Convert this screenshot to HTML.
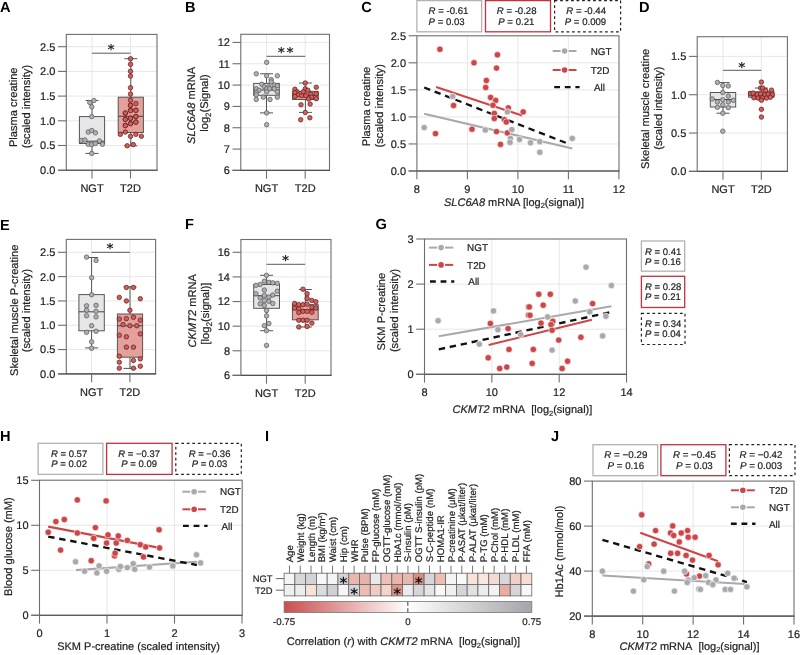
<!DOCTYPE html>
<html><head><meta charset="utf-8"><title>Figure</title><style>html,body{margin:0;padding:0;background:#fff;width:800px;height:655px;overflow:hidden}svg{display:block}</style></head><body>
<svg width="800" height="655" viewBox="0 0 800 655" font-family="Liberation Sans, Arial, Helvetica, sans-serif" text-rendering="geometricPrecision">
<rect width="800" height="655" fill="white"/>
<text x="0" y="12.1" font-size="14.6" font-weight="bold" fill="#000">A</text>
<line x1="66.3" y1="145.5" x2="157" y2="145.5" stroke="#e4e4e4" stroke-width="0.9" />
<line x1="66.3" y1="120.8" x2="157" y2="120.8" stroke="#e4e4e4" stroke-width="0.9" />
<line x1="66.3" y1="96.1" x2="157" y2="96.1" stroke="#e4e4e4" stroke-width="0.9" />
<line x1="66.3" y1="71.4" x2="157" y2="71.4" stroke="#e4e4e4" stroke-width="0.9" />
<line x1="66.3" y1="46.7" x2="157" y2="46.7" stroke="#e4e4e4" stroke-width="0.9" />
<line x1="92" y1="34.4" x2="92" y2="170.2" stroke="#e4e4e4" stroke-width="0.9" />
<line x1="130.5" y1="34.4" x2="130.5" y2="170.2" stroke="#e4e4e4" stroke-width="0.9" />
<rect x="66.3" y="34.4" width="90.7" height="135.8" fill="none" stroke="#6e6e6e" stroke-width="1.1" />
<line x1="58" y1="170.2" x2="157.55" y2="170.2" stroke="#505050" stroke-width="1.1" />
<line x1="58" y1="170.2" x2="66.3" y2="170.2" stroke="#6e6e6e" stroke-width="1.1" />
<line x1="58" y1="145.5" x2="66.3" y2="145.5" stroke="#6e6e6e" stroke-width="1.1" />
<line x1="58" y1="120.8" x2="66.3" y2="120.8" stroke="#6e6e6e" stroke-width="1.1" />
<line x1="58" y1="96.1" x2="66.3" y2="96.1" stroke="#6e6e6e" stroke-width="1.1" />
<line x1="58" y1="71.4" x2="66.3" y2="71.4" stroke="#6e6e6e" stroke-width="1.1" />
<line x1="58" y1="46.7" x2="66.3" y2="46.7" stroke="#6e6e6e" stroke-width="1.1" />
<line x1="92" y1="170.2" x2="92" y2="178.5" stroke="#6e6e6e" stroke-width="1.1" />
<line x1="130.5" y1="170.2" x2="130.5" y2="178.5" stroke="#6e6e6e" stroke-width="1.1" />
<text x="55.4" y="174.1" font-size="11" text-anchor="end" fill="#222" stroke="#222" stroke-width="0.2" >0.0</text>
<text x="55.4" y="149.4" font-size="11" text-anchor="end" fill="#222" stroke="#222" stroke-width="0.2" >0.5</text>
<text x="55.4" y="124.7" font-size="11" text-anchor="end" fill="#222" stroke="#222" stroke-width="0.2" >1.0</text>
<text x="55.4" y="100" font-size="11" text-anchor="end" fill="#222" stroke="#222" stroke-width="0.2" >1.5</text>
<text x="55.4" y="75.3" font-size="11" text-anchor="end" fill="#222" stroke="#222" stroke-width="0.2" >2.0</text>
<text x="55.4" y="50.6" font-size="11" text-anchor="end" fill="#222" stroke="#222" stroke-width="0.2" >2.5</text>
<text x="92" y="191.9" font-size="11" text-anchor="middle" fill="#222" stroke="#222" stroke-width="0.2" >NGT</text>
<text x="130.5" y="191.9" font-size="11" text-anchor="middle" fill="#222" stroke="#222" stroke-width="0.2" >T2D</text>
<text transform="translate(17,107.3) rotate(-90)" x="0" y="0" font-size="11.1" text-anchor="middle" fill="#222" stroke="#222" stroke-width="0.2" >Plasma creatine</text>
<text transform="translate(30.3,106.5) rotate(-90)" x="0" y="0" font-size="11.1" text-anchor="middle" fill="#222" stroke="#222" stroke-width="0.2" >(scaled intensity)</text>
<line x1="92" y1="100.5" x2="92" y2="153.4" stroke="#555" stroke-width="1" />
<line x1="85.5" y1="100.5" x2="98.5" y2="100.5" stroke="#555" stroke-width="1" />
<line x1="85.5" y1="153.4" x2="98.5" y2="153.4" stroke="#555" stroke-width="1" />
<rect x="79.4" y="116.6" width="25.2" height="26.9" fill="#e6e6e9" stroke="#555" stroke-width="1" />
<line x1="79.4" y1="141.2" x2="104.6" y2="141.2" stroke="#444" stroke-width="1" />
<line x1="130.8" y1="58.7" x2="130.8" y2="145.8" stroke="#555" stroke-width="1" />
<line x1="124.3" y1="58.7" x2="137.3" y2="58.7" stroke="#555" stroke-width="1" />
<line x1="124.3" y1="145.8" x2="137.3" y2="145.8" stroke="#555" stroke-width="1" />
<rect x="118.2" y="97.2" width="25.2" height="35.3" fill="#e4a19c" stroke="#555" stroke-width="1" />
<line x1="118.2" y1="116.3" x2="143.4" y2="116.3" stroke="#444" stroke-width="1" />
<line x1="92" y1="53.2" x2="130.5" y2="53.2" stroke="#5a5a5a" stroke-width="1" />
<text x="111" y="54.39" font-size="13.5" text-anchor="middle" fill="#2a2a2a" font-family="DejaVu Sans, sans-serif" font-weight="bold">*</text>
<circle cx="93.89" cy="100.53" r="2.25" fill="#b0b0b4" stroke="#555" stroke-width="0.7"/>
<circle cx="89.77" cy="102.52" r="2.25" fill="#b0b0b4" stroke="#555" stroke-width="0.7"/>
<circle cx="91.76" cy="106.79" r="2.25" fill="#b0b0b4" stroke="#555" stroke-width="0.7"/>
<circle cx="91.76" cy="116.56" r="2.25" fill="#b0b0b4" stroke="#555" stroke-width="0.7"/>
<circle cx="88.24" cy="132.06" r="2.25" fill="#b0b0b4" stroke="#555" stroke-width="0.7"/>
<circle cx="91.76" cy="130.53" r="2.25" fill="#b0b0b4" stroke="#555" stroke-width="0.7"/>
<circle cx="95.42" cy="132.82" r="2.25" fill="#b0b0b4" stroke="#555" stroke-width="0.7"/>
<circle cx="81.37" cy="140.46" r="2.25" fill="#b0b0b4" stroke="#555" stroke-width="0.7"/>
<circle cx="84.89" cy="140" r="2.25" fill="#b0b0b4" stroke="#555" stroke-width="0.7"/>
<circle cx="88.24" cy="144.27" r="2.25" fill="#b0b0b4" stroke="#555" stroke-width="0.7"/>
<circle cx="91.76" cy="144.58" r="2.25" fill="#b0b0b4" stroke="#555" stroke-width="0.7"/>
<circle cx="95.42" cy="143.51" r="2.25" fill="#b0b0b4" stroke="#555" stroke-width="0.7"/>
<circle cx="99.39" cy="140.92" r="2.25" fill="#b0b0b4" stroke="#555" stroke-width="0.7"/>
<circle cx="102.44" cy="144.27" r="2.25" fill="#b0b0b4" stroke="#555" stroke-width="0.7"/>
<circle cx="91.76" cy="153.44" r="2.25" fill="#b0b0b4" stroke="#555" stroke-width="0.7"/>
<circle cx="130.53" cy="58.7" r="2.25" fill="#dc5a58" stroke="#4a2020" stroke-width="0.7"/>
<circle cx="130.53" cy="64.35" r="2.25" fill="#dc5a58" stroke="#4a2020" stroke-width="0.7"/>
<circle cx="130.53" cy="71.22" r="2.25" fill="#dc5a58" stroke="#4a2020" stroke-width="0.7"/>
<circle cx="130.53" cy="76.11" r="2.25" fill="#dc5a58" stroke="#4a2020" stroke-width="0.7"/>
<circle cx="130.53" cy="87.71" r="2.25" fill="#dc5a58" stroke="#4a2020" stroke-width="0.7"/>
<circle cx="130.53" cy="94.12" r="2.25" fill="#dc5a58" stroke="#4a2020" stroke-width="0.7"/>
<circle cx="130.53" cy="100.23" r="2.25" fill="#dc5a58" stroke="#4a2020" stroke-width="0.7"/>
<circle cx="130.53" cy="105.27" r="2.25" fill="#dc5a58" stroke="#4a2020" stroke-width="0.7"/>
<circle cx="135.88" cy="103.59" r="2.25" fill="#dc5a58" stroke="#4a2020" stroke-width="0.7"/>
<circle cx="130.53" cy="110.15" r="2.25" fill="#dc5a58" stroke="#4a2020" stroke-width="0.7"/>
<circle cx="135.88" cy="110.15" r="2.25" fill="#dc5a58" stroke="#4a2020" stroke-width="0.7"/>
<circle cx="125.34" cy="113.21" r="2.25" fill="#dc5a58" stroke="#4a2020" stroke-width="0.7"/>
<circle cx="135.88" cy="116.56" r="2.25" fill="#dc5a58" stroke="#4a2020" stroke-width="0.7"/>
<circle cx="125.34" cy="119.31" r="2.25" fill="#dc5a58" stroke="#4a2020" stroke-width="0.7"/>
<circle cx="130.53" cy="118.24" r="2.25" fill="#dc5a58" stroke="#4a2020" stroke-width="0.7"/>
<circle cx="135.88" cy="122.06" r="2.25" fill="#dc5a58" stroke="#4a2020" stroke-width="0.7"/>
<circle cx="125.34" cy="125.42" r="2.25" fill="#dc5a58" stroke="#4a2020" stroke-width="0.7"/>
<circle cx="130.53" cy="123.44" r="2.25" fill="#dc5a58" stroke="#4a2020" stroke-width="0.7"/>
<circle cx="130.53" cy="105.34" r="2.25" fill="#dc5a58" stroke="#4a2020" stroke-width="0.7"/>
<circle cx="135.88" cy="110.38" r="2.25" fill="#dc5a58" stroke="#4a2020" stroke-width="0.7"/>
<circle cx="125.34" cy="112.98" r="2.25" fill="#dc5a58" stroke="#4a2020" stroke-width="0.7"/>
<circle cx="130.53" cy="110.69" r="2.25" fill="#dc5a58" stroke="#4a2020" stroke-width="0.7"/>
<circle cx="135.88" cy="116.49" r="2.25" fill="#dc5a58" stroke="#4a2020" stroke-width="0.7"/>
<circle cx="125.34" cy="119.54" r="2.25" fill="#dc5a58" stroke="#4a2020" stroke-width="0.7"/>
<circle cx="130.53" cy="118.32" r="2.25" fill="#dc5a58" stroke="#4a2020" stroke-width="0.7"/>
<circle cx="135.88" cy="122.14" r="2.25" fill="#dc5a58" stroke="#4a2020" stroke-width="0.7"/>
<circle cx="125.34" cy="125.65" r="2.25" fill="#dc5a58" stroke="#4a2020" stroke-width="0.7"/>
<circle cx="130.53" cy="123.66" r="2.25" fill="#dc5a58" stroke="#4a2020" stroke-width="0.7"/>
<circle cx="120.31" cy="134.35" r="2.25" fill="#dc5a58" stroke="#4a2020" stroke-width="0.7"/>
<circle cx="125.34" cy="132.06" r="2.25" fill="#dc5a58" stroke="#4a2020" stroke-width="0.7"/>
<circle cx="130.53" cy="136.34" r="2.25" fill="#dc5a58" stroke="#4a2020" stroke-width="0.7"/>
<circle cx="135.88" cy="134.35" r="2.25" fill="#dc5a58" stroke="#4a2020" stroke-width="0.7"/>
<circle cx="141.37" cy="136.18" r="2.25" fill="#dc5a58" stroke="#4a2020" stroke-width="0.7"/>
<circle cx="127.18" cy="145.8" r="2.25" fill="#dc5a58" stroke="#4a2020" stroke-width="0.7"/>
<circle cx="133.28" cy="144.58" r="2.25" fill="#dc5a58" stroke="#4a2020" stroke-width="0.7"/>
<text x="184.9" y="12.1" font-size="14.6" font-weight="bold" fill="#000">B</text>
<line x1="240.8" y1="149.07" x2="329.5" y2="149.07" stroke="#e4e4e4" stroke-width="0.9" />
<line x1="240.8" y1="127.74" x2="329.5" y2="127.74" stroke="#e4e4e4" stroke-width="0.9" />
<line x1="240.8" y1="106.41" x2="329.5" y2="106.41" stroke="#e4e4e4" stroke-width="0.9" />
<line x1="240.8" y1="85.08" x2="329.5" y2="85.08" stroke="#e4e4e4" stroke-width="0.9" />
<line x1="240.8" y1="63.75" x2="329.5" y2="63.75" stroke="#e4e4e4" stroke-width="0.9" />
<line x1="240.8" y1="42.42" x2="329.5" y2="42.42" stroke="#e4e4e4" stroke-width="0.9" />
<line x1="266.5" y1="34.3" x2="266.5" y2="170.4" stroke="#e4e4e4" stroke-width="0.9" />
<line x1="305.2" y1="34.3" x2="305.2" y2="170.4" stroke="#e4e4e4" stroke-width="0.9" />
<rect x="240.8" y="34.3" width="88.7" height="136.1" fill="none" stroke="#6e6e6e" stroke-width="1.1" />
<line x1="232.5" y1="170.4" x2="330.05" y2="170.4" stroke="#505050" stroke-width="1.1" />
<line x1="232.5" y1="170.4" x2="240.8" y2="170.4" stroke="#6e6e6e" stroke-width="1.1" />
<line x1="232.5" y1="149.07" x2="240.8" y2="149.07" stroke="#6e6e6e" stroke-width="1.1" />
<line x1="232.5" y1="127.74" x2="240.8" y2="127.74" stroke="#6e6e6e" stroke-width="1.1" />
<line x1="232.5" y1="106.41" x2="240.8" y2="106.41" stroke="#6e6e6e" stroke-width="1.1" />
<line x1="232.5" y1="85.08" x2="240.8" y2="85.08" stroke="#6e6e6e" stroke-width="1.1" />
<line x1="232.5" y1="63.75" x2="240.8" y2="63.75" stroke="#6e6e6e" stroke-width="1.1" />
<line x1="232.5" y1="42.42" x2="240.8" y2="42.42" stroke="#6e6e6e" stroke-width="1.1" />
<line x1="266.5" y1="170.4" x2="266.5" y2="178.7" stroke="#6e6e6e" stroke-width="1.1" />
<line x1="305.2" y1="170.4" x2="305.2" y2="178.7" stroke="#6e6e6e" stroke-width="1.1" />
<text x="229.9" y="174.3" font-size="11" text-anchor="end" fill="#222" stroke="#222" stroke-width="0.2" >6</text>
<text x="229.9" y="152.97" font-size="11" text-anchor="end" fill="#222" stroke="#222" stroke-width="0.2" >7</text>
<text x="229.9" y="131.64" font-size="11" text-anchor="end" fill="#222" stroke="#222" stroke-width="0.2" >8</text>
<text x="229.9" y="110.31" font-size="11" text-anchor="end" fill="#222" stroke="#222" stroke-width="0.2" >9</text>
<text x="229.9" y="88.98" font-size="11" text-anchor="end" fill="#222" stroke="#222" stroke-width="0.2" >10</text>
<text x="229.9" y="67.65" font-size="11" text-anchor="end" fill="#222" stroke="#222" stroke-width="0.2" >11</text>
<text x="229.9" y="46.32" font-size="11" text-anchor="end" fill="#222" stroke="#222" stroke-width="0.2" >12</text>
<text x="266.5" y="192.1" font-size="11" text-anchor="middle" fill="#222" stroke="#222" stroke-width="0.2" >NGT</text>
<text x="305.2" y="192.1" font-size="11" text-anchor="middle" fill="#222" stroke="#222" stroke-width="0.2" >T2D</text>
<text transform="translate(195.2,105.45) rotate(-90)" x="0" y="0" font-size="11.1" text-anchor="middle" fill="#222" stroke="#222" stroke-width="0.2" ><tspan font-style="italic">SLC6A8</tspan> mRNA</text>
<text transform="translate(207.9,103) rotate(-90)" x="0" y="0" font-size="11.1" text-anchor="middle" fill="#222" stroke="#222" stroke-width="0.2" >log<tspan font-size="7.8" dy="2.8">2</tspan><tspan dy="-2.8">(Signal)</tspan></text>
<line x1="266.5" y1="73.8" x2="266.5" y2="112.9" stroke="#555" stroke-width="1" />
<line x1="260" y1="73.8" x2="273" y2="73.8" stroke="#555" stroke-width="1" />
<line x1="260" y1="112.9" x2="273" y2="112.9" stroke="#555" stroke-width="1" />
<rect x="253.7" y="83.4" width="25.6" height="11.9" fill="#e6e6e9" stroke="#555" stroke-width="1" />
<line x1="253.7" y1="90" x2="279.3" y2="90" stroke="#444" stroke-width="1" />
<line x1="305.4" y1="83" x2="305.4" y2="112.4" stroke="#555" stroke-width="1" />
<line x1="298.9" y1="83" x2="311.9" y2="83" stroke="#555" stroke-width="1" />
<line x1="298.9" y1="112.4" x2="311.9" y2="112.4" stroke="#555" stroke-width="1" />
<rect x="292.6" y="91.4" width="25.6" height="8.1" fill="#e4a19c" stroke="#555" stroke-width="1" />
<line x1="292.6" y1="95.5" x2="318.2" y2="95.5" stroke="#444" stroke-width="1" />
<line x1="266.5" y1="56.3" x2="305.2" y2="56.3" stroke="#5a5a5a" stroke-width="1" />
<text x="281.25" y="56.89" font-size="13.5" text-anchor="middle" fill="#2a2a2a" font-family="DejaVu Sans, sans-serif" font-weight="bold">*</text>
<text x="290.15" y="56.89" font-size="13.5" text-anchor="middle" fill="#2a2a2a" font-family="DejaVu Sans, sans-serif" font-weight="bold">*</text>
<circle cx="266.64" cy="62.37" r="2.25" fill="#b0b0b4" stroke="#555" stroke-width="0.7"/>
<circle cx="256.26" cy="73.82" r="2.25" fill="#b0b0b4" stroke="#555" stroke-width="0.7"/>
<circle cx="266.64" cy="75.8" r="2.25" fill="#b0b0b4" stroke="#555" stroke-width="0.7"/>
<circle cx="277.33" cy="75.8" r="2.25" fill="#b0b0b4" stroke="#555" stroke-width="0.7"/>
<circle cx="271.22" cy="79.62" r="2.25" fill="#b0b0b4" stroke="#555" stroke-width="0.7"/>
<circle cx="271.22" cy="81.91" r="2.25" fill="#b0b0b4" stroke="#555" stroke-width="0.7"/>
<circle cx="261.76" cy="84.2" r="2.25" fill="#b0b0b4" stroke="#555" stroke-width="0.7"/>
<circle cx="264.35" cy="86.79" r="2.25" fill="#b0b0b4" stroke="#555" stroke-width="0.7"/>
<circle cx="268.93" cy="86.79" r="2.25" fill="#b0b0b4" stroke="#555" stroke-width="0.7"/>
<circle cx="274.27" cy="84.96" r="2.25" fill="#b0b0b4" stroke="#555" stroke-width="0.7"/>
<circle cx="277.33" cy="85.73" r="2.25" fill="#b0b0b4" stroke="#555" stroke-width="0.7"/>
<circle cx="256.26" cy="88.78" r="2.25" fill="#b0b0b4" stroke="#555" stroke-width="0.7"/>
<circle cx="259.01" cy="90.31" r="2.25" fill="#b0b0b4" stroke="#555" stroke-width="0.7"/>
<circle cx="266.64" cy="88.78" r="2.25" fill="#b0b0b4" stroke="#555" stroke-width="0.7"/>
<circle cx="269.69" cy="88.78" r="2.25" fill="#b0b0b4" stroke="#555" stroke-width="0.7"/>
<circle cx="274.27" cy="88.78" r="2.25" fill="#b0b0b4" stroke="#555" stroke-width="0.7"/>
<circle cx="277.33" cy="91.83" r="2.25" fill="#b0b0b4" stroke="#555" stroke-width="0.7"/>
<circle cx="256.26" cy="92.6" r="2.25" fill="#b0b0b4" stroke="#555" stroke-width="0.7"/>
<circle cx="266.64" cy="91.83" r="2.25" fill="#b0b0b4" stroke="#555" stroke-width="0.7"/>
<circle cx="256.26" cy="94.89" r="2.25" fill="#b0b0b4" stroke="#555" stroke-width="0.7"/>
<circle cx="263.28" cy="97.18" r="2.25" fill="#b0b0b4" stroke="#555" stroke-width="0.7"/>
<circle cx="270" cy="99.47" r="2.25" fill="#b0b0b4" stroke="#555" stroke-width="0.7"/>
<circle cx="277.33" cy="97.18" r="2.25" fill="#b0b0b4" stroke="#555" stroke-width="0.7"/>
<circle cx="256.26" cy="99.47" r="2.25" fill="#b0b0b4" stroke="#555" stroke-width="0.7"/>
<circle cx="266.64" cy="112.9" r="2.25" fill="#b0b0b4" stroke="#555" stroke-width="0.7"/>
<circle cx="266.64" cy="124.66" r="2.25" fill="#b0b0b4" stroke="#555" stroke-width="0.7"/>
<circle cx="305.27" cy="82.98" r="2.25" fill="#dc5a58" stroke="#4a2020" stroke-width="0.7"/>
<circle cx="294.89" cy="89.24" r="2.25" fill="#dc5a58" stroke="#4a2020" stroke-width="0.7"/>
<circle cx="316.26" cy="87.25" r="2.25" fill="#dc5a58" stroke="#4a2020" stroke-width="0.7"/>
<circle cx="305.27" cy="88.78" r="2.25" fill="#dc5a58" stroke="#4a2020" stroke-width="0.7"/>
<circle cx="307.86" cy="90.31" r="2.25" fill="#dc5a58" stroke="#4a2020" stroke-width="0.7"/>
<circle cx="297.18" cy="91.83" r="2.25" fill="#dc5a58" stroke="#4a2020" stroke-width="0.7"/>
<circle cx="303.28" cy="91.83" r="2.25" fill="#dc5a58" stroke="#4a2020" stroke-width="0.7"/>
<circle cx="294.89" cy="92.6" r="2.25" fill="#dc5a58" stroke="#4a2020" stroke-width="0.7"/>
<circle cx="298.24" cy="94.89" r="2.25" fill="#dc5a58" stroke="#4a2020" stroke-width="0.7"/>
<circle cx="301.76" cy="95.65" r="2.25" fill="#dc5a58" stroke="#4a2020" stroke-width="0.7"/>
<circle cx="305.88" cy="95.65" r="2.25" fill="#dc5a58" stroke="#4a2020" stroke-width="0.7"/>
<circle cx="310.92" cy="94.12" r="2.25" fill="#dc5a58" stroke="#4a2020" stroke-width="0.7"/>
<circle cx="316.26" cy="93.82" r="2.25" fill="#dc5a58" stroke="#4a2020" stroke-width="0.7"/>
<circle cx="294.89" cy="96.41" r="2.25" fill="#dc5a58" stroke="#4a2020" stroke-width="0.7"/>
<circle cx="311.68" cy="97.18" r="2.25" fill="#dc5a58" stroke="#4a2020" stroke-width="0.7"/>
<circle cx="316.26" cy="98.7" r="2.25" fill="#dc5a58" stroke="#4a2020" stroke-width="0.7"/>
<circle cx="308.63" cy="99.01" r="2.25" fill="#dc5a58" stroke="#4a2020" stroke-width="0.7"/>
<circle cx="300.99" cy="104.81" r="2.25" fill="#dc5a58" stroke="#4a2020" stroke-width="0.7"/>
<circle cx="310.15" cy="104.05" r="2.25" fill="#dc5a58" stroke="#4a2020" stroke-width="0.7"/>
<circle cx="305.27" cy="112.44" r="2.25" fill="#dc5a58" stroke="#4a2020" stroke-width="0.7"/>
<circle cx="300.69" cy="119.77" r="2.25" fill="#dc5a58" stroke="#4a2020" stroke-width="0.7"/>
<circle cx="309.85" cy="117.79" r="2.25" fill="#dc5a58" stroke="#4a2020" stroke-width="0.7"/>
<text x="361.2" y="12.1" font-size="14.6" font-weight="bold" fill="#000">C</text>
<line x1="416.9" y1="143.95" x2="619" y2="143.95" stroke="#e4e4e4" stroke-width="0.9" />
<line x1="416.9" y1="116.9" x2="619" y2="116.9" stroke="#e4e4e4" stroke-width="0.9" />
<line x1="416.9" y1="89.85" x2="619" y2="89.85" stroke="#e4e4e4" stroke-width="0.9" />
<line x1="416.9" y1="62.8" x2="619" y2="62.8" stroke="#e4e4e4" stroke-width="0.9" />
<line x1="467.4" y1="35.8" x2="467.4" y2="171" stroke="#e4e4e4" stroke-width="0.9" />
<line x1="517.9" y1="35.8" x2="517.9" y2="171" stroke="#e4e4e4" stroke-width="0.9" />
<line x1="568.4" y1="35.8" x2="568.4" y2="171" stroke="#e4e4e4" stroke-width="0.9" />
<rect x="416.9" y="35.8" width="202.1" height="135.2" fill="none" stroke="#6e6e6e" stroke-width="1.1" />
<line x1="408.6" y1="171" x2="619.55" y2="171" stroke="#505050" stroke-width="1.1" />
<line x1="408.6" y1="171" x2="416.9" y2="171" stroke="#6e6e6e" stroke-width="1.1" />
<line x1="408.6" y1="143.95" x2="416.9" y2="143.95" stroke="#6e6e6e" stroke-width="1.1" />
<line x1="408.6" y1="116.9" x2="416.9" y2="116.9" stroke="#6e6e6e" stroke-width="1.1" />
<line x1="408.6" y1="89.85" x2="416.9" y2="89.85" stroke="#6e6e6e" stroke-width="1.1" />
<line x1="408.6" y1="62.8" x2="416.9" y2="62.8" stroke="#6e6e6e" stroke-width="1.1" />
<line x1="408.6" y1="35.75" x2="416.9" y2="35.75" stroke="#6e6e6e" stroke-width="1.1" />
<line x1="416.9" y1="171" x2="416.9" y2="179.3" stroke="#6e6e6e" stroke-width="1.1" />
<line x1="467.4" y1="171" x2="467.4" y2="179.3" stroke="#6e6e6e" stroke-width="1.1" />
<line x1="517.9" y1="171" x2="517.9" y2="179.3" stroke="#6e6e6e" stroke-width="1.1" />
<line x1="568.4" y1="171" x2="568.4" y2="179.3" stroke="#6e6e6e" stroke-width="1.1" />
<line x1="618.9" y1="171" x2="618.9" y2="179.3" stroke="#6e6e6e" stroke-width="1.1" />
<text x="406" y="174.9" font-size="11" text-anchor="end" fill="#222" stroke="#222" stroke-width="0.2" >0.0</text>
<text x="406" y="147.85" font-size="11" text-anchor="end" fill="#222" stroke="#222" stroke-width="0.2" >0.5</text>
<text x="406" y="120.8" font-size="11" text-anchor="end" fill="#222" stroke="#222" stroke-width="0.2" >1.0</text>
<text x="406" y="93.75" font-size="11" text-anchor="end" fill="#222" stroke="#222" stroke-width="0.2" >1.5</text>
<text x="406" y="66.7" font-size="11" text-anchor="end" fill="#222" stroke="#222" stroke-width="0.2" >2.0</text>
<text x="406" y="39.65" font-size="11" text-anchor="end" fill="#222" stroke="#222" stroke-width="0.2" >2.5</text>
<text x="416.9" y="192.7" font-size="11" text-anchor="middle" fill="#222" stroke="#222" stroke-width="0.2" >8</text>
<text x="467.4" y="192.7" font-size="11" text-anchor="middle" fill="#222" stroke="#222" stroke-width="0.2" >9</text>
<text x="517.9" y="192.7" font-size="11" text-anchor="middle" fill="#222" stroke="#222" stroke-width="0.2" >10</text>
<text x="568.4" y="192.7" font-size="11" text-anchor="middle" fill="#222" stroke="#222" stroke-width="0.2" >11</text>
<text x="618.9" y="192.7" font-size="11" text-anchor="middle" fill="#222" stroke="#222" stroke-width="0.2" >12</text>
<text transform="translate(370,106.5) rotate(-90)" x="0" y="0" font-size="11.1" text-anchor="middle" fill="#222" stroke="#222" stroke-width="0.2" >Plasma creatine</text>
<text transform="translate(383.4,105.75) rotate(-90)" x="0" y="0" font-size="11.1" text-anchor="middle" fill="#222" stroke="#222" stroke-width="0.2" >(scaled intensity)</text>
<text x="514" y="205.5" font-size="11" text-anchor="middle" fill="#222" stroke="#222" stroke-width="0.2" ><tspan font-style="italic">SLC6A8</tspan> mRNA [log<tspan font-size="7.5" dy="2.5">2</tspan><tspan dy="-2.5">(signal)]</tspan></text>
<rect x="416.9" y="0.6" width="64.7" height="31.2" fill="white" stroke="#b2b2b2" stroke-width="1.3" />
<text x="428.6" y="14.2" font-size="9.6" text-anchor="start" fill="#222" stroke="#222" stroke-width="0.2" ><tspan font-style="italic">R</tspan> = -0.61</text>
<text x="428.6" y="24.7" font-size="9.6" text-anchor="start" fill="#222" stroke="#222" stroke-width="0.2" ><tspan font-style="italic">P</tspan> = 0.03</text>
<rect x="485.5" y="0.6" width="65" height="31.2" fill="white" stroke="#c2323c" stroke-width="1.3" />
<text x="496.8" y="14.2" font-size="9.6" text-anchor="start" fill="#222" stroke="#222" stroke-width="0.2" ><tspan font-style="italic">R</tspan> = -0.28</text>
<text x="498.3" y="24.7" font-size="9.6" text-anchor="start" fill="#222" stroke="#222" stroke-width="0.2" ><tspan font-style="italic">P</tspan> = 0.21</text>
<rect x="554.6" y="0.6" width="66" height="31.2" fill="white" stroke="#222" stroke-width="1.2" stroke-dasharray="2.75,2.75"/>
<text x="566.3" y="14.2" font-size="9.6" text-anchor="start" fill="#222" stroke="#222" stroke-width="0.2" ><tspan font-style="italic">R</tspan> = -0.44</text>
<text x="564.8" y="24.7" font-size="9.6" text-anchor="start" fill="#222" stroke="#222" stroke-width="0.2" ><tspan font-style="italic">P</tspan> = 0.009</text>
<line x1="552.7" y1="51" x2="576.5" y2="51" stroke="#a9a9ad" stroke-width="2.0" />
<circle cx="564.6" cy="51" r="3.4" fill="#a9a9ad" stroke="white" stroke-width="1.2"/>
<text x="590.7" y="54.7" font-size="9.9" text-anchor="start" fill="#222" stroke="#222" stroke-width="0.2" >NGT</text>
<line x1="552.7" y1="70" x2="576.5" y2="70" stroke="#cc4547" stroke-width="2.0" />
<circle cx="564.6" cy="70" r="3.4" fill="#cc4547" stroke="white" stroke-width="1.2"/>
<text x="590.7" y="73.7" font-size="9.9" text-anchor="start" fill="#222" stroke="#222" stroke-width="0.2" >T2D</text>
<line x1="554.2" y1="87.1" x2="579.6" y2="87.1" stroke="#111" stroke-width="2.4" stroke-dasharray="5.8,4.8"/>
<text x="594" y="90.8" font-size="9.9" text-anchor="start" fill="#222" stroke="#222" stroke-width="0.2" >All</text>
<line x1="436.1" y1="87.1" x2="522.1" y2="115.6" stroke="#cc4547" stroke-width="2.1" />
<line x1="424.2" y1="113.7" x2="572.3" y2="148.4" stroke="#a9a9ad" stroke-width="2.1" />
<line x1="424.2" y1="87.5" x2="568.6" y2="143.9" stroke="#111" stroke-width="2.3" stroke-dasharray="6.4,4.8"/>
<circle cx="439.9" cy="49.3" r="3.2" fill="#cc4547" stroke="white" stroke-width="0.6"/>
<circle cx="474" cy="62.8" r="3.2" fill="#cc4547" stroke="white" stroke-width="0.6"/>
<circle cx="497.4" cy="54.8" r="3.2" fill="#cc4547" stroke="white" stroke-width="0.6"/>
<circle cx="496.5" cy="68.1" r="3.2" fill="#cc4547" stroke="white" stroke-width="0.6"/>
<circle cx="486.4" cy="80.5" r="3.2" fill="#cc4547" stroke="white" stroke-width="0.6"/>
<circle cx="485.7" cy="87.5" r="3.2" fill="#cc4547" stroke="white" stroke-width="0.6"/>
<circle cx="490.6" cy="97.5" r="3.2" fill="#cc4547" stroke="white" stroke-width="0.6"/>
<circle cx="495.7" cy="100.4" r="3.2" fill="#cc4547" stroke="white" stroke-width="0.6"/>
<circle cx="493" cy="105.3" r="3.2" fill="#cc4547" stroke="white" stroke-width="0.6"/>
<circle cx="494.3" cy="113.4" r="3.2" fill="#cc4547" stroke="white" stroke-width="0.6"/>
<circle cx="494.3" cy="118.5" r="3.2" fill="#cc4547" stroke="white" stroke-width="0.6"/>
<circle cx="453.6" cy="105.5" r="3.2" fill="#cc4547" stroke="white" stroke-width="0.6"/>
<circle cx="435.5" cy="133.6" r="3.2" fill="#cc4547" stroke="white" stroke-width="0.6"/>
<circle cx="472" cy="129.2" r="3.2" fill="#cc4547" stroke="white" stroke-width="0.6"/>
<circle cx="496.5" cy="131.6" r="3.2" fill="#cc4547" stroke="white" stroke-width="0.6"/>
<circle cx="500.5" cy="144.4" r="3.2" fill="#cc4547" stroke="white" stroke-width="0.6"/>
<circle cx="508.3" cy="107.9" r="3.2" fill="#cc4547" stroke="white" stroke-width="0.6"/>
<circle cx="504.5" cy="119.6" r="3.2" fill="#cc4547" stroke="white" stroke-width="0.6"/>
<circle cx="506.3" cy="122" r="3.2" fill="#cc4547" stroke="white" stroke-width="0.6"/>
<circle cx="507.4" cy="132.9" r="3.2" fill="#cc4547" stroke="white" stroke-width="0.6"/>
<circle cx="523.2" cy="111.9" r="3.2" fill="#cc4547" stroke="white" stroke-width="0.6"/>
<circle cx="424.2" cy="127.6" r="3.2" fill="#a9a9ad" stroke="white" stroke-width="0.6"/>
<circle cx="452.7" cy="96.4" r="3.2" fill="#a9a9ad" stroke="white" stroke-width="0.6"/>
<circle cx="485.3" cy="130" r="3.2" fill="#a9a9ad" stroke="white" stroke-width="0.6"/>
<circle cx="507.4" cy="111.9" r="3.2" fill="#a9a9ad" stroke="white" stroke-width="0.6"/>
<circle cx="511.8" cy="129.6" r="3.2" fill="#a9a9ad" stroke="white" stroke-width="0.6"/>
<circle cx="510.4" cy="138.4" r="3.2" fill="#a9a9ad" stroke="white" stroke-width="0.6"/>
<circle cx="519.5" cy="139.5" r="3.2" fill="#a9a9ad" stroke="white" stroke-width="0.6"/>
<circle cx="510" cy="142.4" r="3.2" fill="#a9a9ad" stroke="white" stroke-width="0.6"/>
<circle cx="530.5" cy="142.8" r="3.2" fill="#a9a9ad" stroke="white" stroke-width="0.6"/>
<circle cx="539.8" cy="141.7" r="3.2" fill="#a9a9ad" stroke="white" stroke-width="0.6"/>
<circle cx="539.8" cy="152.3" r="3.2" fill="#a9a9ad" stroke="white" stroke-width="0.6"/>
<circle cx="572.3" cy="138.4" r="3.2" fill="#a9a9ad" stroke="white" stroke-width="0.6"/>
<text x="638.9" y="12" font-size="14.6" font-weight="bold" fill="#000">D</text>
<line x1="697.2" y1="133.06" x2="787.4" y2="133.06" stroke="#e4e4e4" stroke-width="0.9" />
<line x1="697.2" y1="94.73" x2="787.4" y2="94.73" stroke="#e4e4e4" stroke-width="0.9" />
<line x1="697.2" y1="56.4" x2="787.4" y2="56.4" stroke="#e4e4e4" stroke-width="0.9" />
<line x1="723" y1="36.7" x2="723" y2="171.4" stroke="#e4e4e4" stroke-width="0.9" />
<line x1="761.3" y1="36.7" x2="761.3" y2="171.4" stroke="#e4e4e4" stroke-width="0.9" />
<rect x="697.2" y="36.7" width="90.2" height="134.7" fill="none" stroke="#6e6e6e" stroke-width="1.1" />
<line x1="688.9" y1="171.4" x2="787.95" y2="171.4" stroke="#505050" stroke-width="1.1" />
<line x1="688.9" y1="171.4" x2="697.2" y2="171.4" stroke="#6e6e6e" stroke-width="1.1" />
<line x1="688.9" y1="133.06" x2="697.2" y2="133.06" stroke="#6e6e6e" stroke-width="1.1" />
<line x1="688.9" y1="94.73" x2="697.2" y2="94.73" stroke="#6e6e6e" stroke-width="1.1" />
<line x1="688.9" y1="56.4" x2="697.2" y2="56.4" stroke="#6e6e6e" stroke-width="1.1" />
<line x1="723" y1="171.4" x2="723" y2="179.7" stroke="#6e6e6e" stroke-width="1.1" />
<line x1="761.3" y1="171.4" x2="761.3" y2="179.7" stroke="#6e6e6e" stroke-width="1.1" />
<text x="686.3" y="175.3" font-size="11" text-anchor="end" fill="#222" stroke="#222" stroke-width="0.2" >0.0</text>
<text x="686.3" y="136.97" font-size="11" text-anchor="end" fill="#222" stroke="#222" stroke-width="0.2" >0.5</text>
<text x="686.3" y="98.63" font-size="11" text-anchor="end" fill="#222" stroke="#222" stroke-width="0.2" >1.0</text>
<text x="686.3" y="60.3" font-size="11" text-anchor="end" fill="#222" stroke="#222" stroke-width="0.2" >1.5</text>
<text x="723" y="193.1" font-size="11" text-anchor="middle" fill="#222" stroke="#222" stroke-width="0.2" >NGT</text>
<text x="761.3" y="193.1" font-size="11" text-anchor="middle" fill="#222" stroke="#222" stroke-width="0.2" >T2D</text>
<text transform="translate(649.2,108.85) rotate(-90)" x="0" y="0" font-size="11.1" text-anchor="middle" fill="#222" stroke="#222" stroke-width="0.2" >Skeletal muscle creatine</text>
<text transform="translate(662.4,108.05) rotate(-90)" x="0" y="0" font-size="11.1" text-anchor="middle" fill="#222" stroke="#222" stroke-width="0.2" >(scaled intensity)</text>
<line x1="723" y1="82.6" x2="723" y2="113.2" stroke="#555" stroke-width="1" />
<line x1="716.5" y1="82.6" x2="729.5" y2="82.6" stroke="#555" stroke-width="1" />
<line x1="716.5" y1="113.2" x2="729.5" y2="113.2" stroke="#555" stroke-width="1" />
<rect x="710.3" y="92.5" width="25.4" height="14.5" fill="#e6e6e9" stroke="#555" stroke-width="1" />
<line x1="710.3" y1="99.5" x2="735.7" y2="99.5" stroke="#444" stroke-width="1" />
<line x1="761.3" y1="88" x2="761.3" y2="98.9" stroke="#555" stroke-width="1" />
<line x1="754.8" y1="88" x2="767.8" y2="88" stroke="#555" stroke-width="1" />
<line x1="754.8" y1="98.9" x2="767.8" y2="98.9" stroke="#555" stroke-width="1" />
<rect x="748.6" y="91.8" width="25.4" height="5.4" fill="#e4a19c" stroke="#555" stroke-width="1" />
<line x1="748.6" y1="94.7" x2="774" y2="94.7" stroke="#444" stroke-width="1" />
<line x1="723" y1="70.3" x2="761.3" y2="70.3" stroke="#5a5a5a" stroke-width="1" />
<text x="741.8" y="71.59" font-size="13.5" text-anchor="middle" fill="#2a2a2a" font-family="DejaVu Sans, sans-serif" font-weight="bold">*</text>
<circle cx="717.39" cy="82.44" r="2.25" fill="#b0b0b4" stroke="#555" stroke-width="0.7"/>
<circle cx="722.77" cy="85.46" r="2.25" fill="#b0b0b4" stroke="#555" stroke-width="0.7"/>
<circle cx="728.32" cy="85.97" r="2.25" fill="#b0b0b4" stroke="#555" stroke-width="0.7"/>
<circle cx="722.77" cy="92.52" r="2.25" fill="#b0b0b4" stroke="#555" stroke-width="0.7"/>
<circle cx="728.32" cy="96.05" r="2.25" fill="#b0b0b4" stroke="#555" stroke-width="0.7"/>
<circle cx="712.18" cy="98.91" r="2.25" fill="#b0b0b4" stroke="#555" stroke-width="0.7"/>
<circle cx="717.39" cy="101.93" r="2.25" fill="#b0b0b4" stroke="#555" stroke-width="0.7"/>
<circle cx="722.77" cy="99.75" r="2.25" fill="#b0b0b4" stroke="#555" stroke-width="0.7"/>
<circle cx="728.32" cy="101.93" r="2.25" fill="#b0b0b4" stroke="#555" stroke-width="0.7"/>
<circle cx="733.36" cy="100.25" r="2.25" fill="#b0b0b4" stroke="#555" stroke-width="0.7"/>
<circle cx="717.39" cy="107.31" r="2.25" fill="#b0b0b4" stroke="#555" stroke-width="0.7"/>
<circle cx="722.77" cy="104.79" r="2.25" fill="#b0b0b4" stroke="#555" stroke-width="0.7"/>
<circle cx="728.32" cy="107.65" r="2.25" fill="#b0b0b4" stroke="#555" stroke-width="0.7"/>
<circle cx="722.77" cy="113.19" r="2.25" fill="#b0b0b4" stroke="#555" stroke-width="0.7"/>
<circle cx="722.77" cy="131.18" r="2.25" fill="#b0b0b4" stroke="#555" stroke-width="0.7"/>
<circle cx="761.43" cy="82.1" r="2.25" fill="#dc5a58" stroke="#4a2020" stroke-width="0.7"/>
<circle cx="760.59" cy="87.98" r="2.25" fill="#dc5a58" stroke="#4a2020" stroke-width="0.7"/>
<circle cx="762.61" cy="87.98" r="2.25" fill="#dc5a58" stroke="#4a2020" stroke-width="0.7"/>
<circle cx="765.63" cy="90.5" r="2.25" fill="#dc5a58" stroke="#4a2020" stroke-width="0.7"/>
<circle cx="771.51" cy="90.17" r="2.25" fill="#dc5a58" stroke="#4a2020" stroke-width="0.7"/>
<circle cx="750.5" cy="93.53" r="2.25" fill="#dc5a58" stroke="#4a2020" stroke-width="0.7"/>
<circle cx="753.03" cy="93.03" r="2.25" fill="#dc5a58" stroke="#4a2020" stroke-width="0.7"/>
<circle cx="757.23" cy="94.37" r="2.25" fill="#dc5a58" stroke="#4a2020" stroke-width="0.7"/>
<circle cx="760.59" cy="93.87" r="2.25" fill="#dc5a58" stroke="#4a2020" stroke-width="0.7"/>
<circle cx="764.79" cy="94.71" r="2.25" fill="#dc5a58" stroke="#4a2020" stroke-width="0.7"/>
<circle cx="768.15" cy="94.37" r="2.25" fill="#dc5a58" stroke="#4a2020" stroke-width="0.7"/>
<circle cx="772.35" cy="94.71" r="2.25" fill="#dc5a58" stroke="#4a2020" stroke-width="0.7"/>
<circle cx="753.87" cy="97.73" r="2.25" fill="#dc5a58" stroke="#4a2020" stroke-width="0.7"/>
<circle cx="758.07" cy="98.07" r="2.25" fill="#dc5a58" stroke="#4a2020" stroke-width="0.7"/>
<circle cx="762.27" cy="97.73" r="2.25" fill="#dc5a58" stroke="#4a2020" stroke-width="0.7"/>
<circle cx="766.47" cy="98.07" r="2.25" fill="#dc5a58" stroke="#4a2020" stroke-width="0.7"/>
<circle cx="770.34" cy="97.23" r="2.25" fill="#dc5a58" stroke="#4a2020" stroke-width="0.7"/>
<circle cx="761.43" cy="100.25" r="2.25" fill="#dc5a58" stroke="#4a2020" stroke-width="0.7"/>
<circle cx="761.43" cy="109.33" r="2.25" fill="#dc5a58" stroke="#4a2020" stroke-width="0.7"/>
<circle cx="761.43" cy="117.06" r="2.25" fill="#dc5a58" stroke="#4a2020" stroke-width="0.7"/>
<text x="0" y="229.5" font-size="14.6" font-weight="bold" fill="#000">E</text>
<line x1="66.3" y1="349.58" x2="155.6" y2="349.58" stroke="#e4e4e4" stroke-width="0.9" />
<line x1="66.3" y1="325.26" x2="155.6" y2="325.26" stroke="#e4e4e4" stroke-width="0.9" />
<line x1="66.3" y1="300.94" x2="155.6" y2="300.94" stroke="#e4e4e4" stroke-width="0.9" />
<line x1="66.3" y1="276.62" x2="155.6" y2="276.62" stroke="#e4e4e4" stroke-width="0.9" />
<line x1="66.3" y1="252.3" x2="155.6" y2="252.3" stroke="#e4e4e4" stroke-width="0.9" />
<line x1="91.6" y1="239.4" x2="91.6" y2="373.9" stroke="#e4e4e4" stroke-width="0.9" />
<line x1="129.9" y1="239.4" x2="129.9" y2="373.9" stroke="#e4e4e4" stroke-width="0.9" />
<rect x="66.3" y="239.4" width="89.3" height="134.5" fill="none" stroke="#6e6e6e" stroke-width="1.1" />
<line x1="58" y1="373.9" x2="156.15" y2="373.9" stroke="#505050" stroke-width="1.1" />
<line x1="58" y1="373.9" x2="66.3" y2="373.9" stroke="#6e6e6e" stroke-width="1.1" />
<line x1="58" y1="349.58" x2="66.3" y2="349.58" stroke="#6e6e6e" stroke-width="1.1" />
<line x1="58" y1="325.26" x2="66.3" y2="325.26" stroke="#6e6e6e" stroke-width="1.1" />
<line x1="58" y1="300.94" x2="66.3" y2="300.94" stroke="#6e6e6e" stroke-width="1.1" />
<line x1="58" y1="276.62" x2="66.3" y2="276.62" stroke="#6e6e6e" stroke-width="1.1" />
<line x1="58" y1="252.3" x2="66.3" y2="252.3" stroke="#6e6e6e" stroke-width="1.1" />
<line x1="91.6" y1="373.9" x2="91.6" y2="382.2" stroke="#6e6e6e" stroke-width="1.1" />
<line x1="129.9" y1="373.9" x2="129.9" y2="382.2" stroke="#6e6e6e" stroke-width="1.1" />
<text x="55.4" y="377.8" font-size="11" text-anchor="end" fill="#222" stroke="#222" stroke-width="0.2" >0.0</text>
<text x="55.4" y="353.48" font-size="11" text-anchor="end" fill="#222" stroke="#222" stroke-width="0.2" >0.5</text>
<text x="55.4" y="329.16" font-size="11" text-anchor="end" fill="#222" stroke="#222" stroke-width="0.2" >1.0</text>
<text x="55.4" y="304.84" font-size="11" text-anchor="end" fill="#222" stroke="#222" stroke-width="0.2" >1.5</text>
<text x="55.4" y="280.52" font-size="11" text-anchor="end" fill="#222" stroke="#222" stroke-width="0.2" >2.0</text>
<text x="55.4" y="256.2" font-size="11" text-anchor="end" fill="#222" stroke="#222" stroke-width="0.2" >2.5</text>
<text x="91.6" y="395.6" font-size="11" text-anchor="middle" fill="#222" stroke="#222" stroke-width="0.2" >NGT</text>
<text x="129.9" y="395.6" font-size="11" text-anchor="middle" fill="#222" stroke="#222" stroke-width="0.2" >T2D</text>
<text transform="translate(17.6,310.3) rotate(-90)" x="0" y="0" font-size="11.1" text-anchor="middle" fill="#222" stroke="#222" stroke-width="0.2" >Skeletal muscle P-creatine</text>
<text transform="translate(30.3,310.5) rotate(-90)" x="0" y="0" font-size="11.1" text-anchor="middle" fill="#222" stroke="#222" stroke-width="0.2" >(scaled intensity)</text>
<line x1="91.6" y1="257.5" x2="91.6" y2="347.9" stroke="#555" stroke-width="1" />
<line x1="85.1" y1="257.5" x2="98.1" y2="257.5" stroke="#555" stroke-width="1" />
<line x1="85.1" y1="347.9" x2="98.1" y2="347.9" stroke="#555" stroke-width="1" />
<rect x="78.9" y="294.6" width="25.4" height="36.2" fill="#e6e6e9" stroke="#555" stroke-width="1" />
<line x1="78.9" y1="311.8" x2="104.3" y2="311.8" stroke="#444" stroke-width="1" />
<line x1="130" y1="286.8" x2="130" y2="368.4" stroke="#555" stroke-width="1" />
<line x1="123.5" y1="286.8" x2="136.5" y2="286.8" stroke="#555" stroke-width="1" />
<line x1="123.5" y1="368.4" x2="136.5" y2="368.4" stroke="#555" stroke-width="1" />
<rect x="117.4" y="314" width="25.2" height="43.2" fill="#e4a19c" stroke="#555" stroke-width="1" />
<line x1="117.4" y1="325.8" x2="142.6" y2="325.8" stroke="#444" stroke-width="1" />
<line x1="91.6" y1="252.3" x2="129.9" y2="252.3" stroke="#5a5a5a" stroke-width="1" />
<text x="110" y="253.29" font-size="13.5" text-anchor="middle" fill="#2a2a2a" font-family="DejaVu Sans, sans-serif" font-weight="bold">*</text>
<circle cx="86.55" cy="257.12" r="2.25" fill="#b0b0b4" stroke="#555" stroke-width="0.7"/>
<circle cx="96.06" cy="260.44" r="2.25" fill="#b0b0b4" stroke="#555" stroke-width="0.7"/>
<circle cx="91.64" cy="277.7" r="2.25" fill="#b0b0b4" stroke="#555" stroke-width="0.7"/>
<circle cx="91.64" cy="294.73" r="2.25" fill="#b0b0b4" stroke="#555" stroke-width="0.7"/>
<circle cx="86.55" cy="305.8" r="2.25" fill="#b0b0b4" stroke="#555" stroke-width="0.7"/>
<circle cx="96.06" cy="305.35" r="2.25" fill="#b0b0b4" stroke="#555" stroke-width="0.7"/>
<circle cx="86.55" cy="310.22" r="2.25" fill="#b0b0b4" stroke="#555" stroke-width="0.7"/>
<circle cx="96.06" cy="311.33" r="2.25" fill="#b0b0b4" stroke="#555" stroke-width="0.7"/>
<circle cx="86.55" cy="315.75" r="2.25" fill="#b0b0b4" stroke="#555" stroke-width="0.7"/>
<circle cx="96.06" cy="316.86" r="2.25" fill="#b0b0b4" stroke="#555" stroke-width="0.7"/>
<circle cx="91.64" cy="325.71" r="2.25" fill="#b0b0b4" stroke="#555" stroke-width="0.7"/>
<circle cx="86.55" cy="332.35" r="2.25" fill="#b0b0b4" stroke="#555" stroke-width="0.7"/>
<circle cx="96.06" cy="331.24" r="2.25" fill="#b0b0b4" stroke="#555" stroke-width="0.7"/>
<circle cx="91.64" cy="341.86" r="2.25" fill="#b0b0b4" stroke="#555" stroke-width="0.7"/>
<circle cx="91.64" cy="348.27" r="2.25" fill="#b0b0b4" stroke="#555" stroke-width="0.7"/>
<circle cx="126.37" cy="287.43" r="2.25" fill="#dc5a58" stroke="#4a2020" stroke-width="0.7"/>
<circle cx="133.45" cy="287.43" r="2.25" fill="#dc5a58" stroke="#4a2020" stroke-width="0.7"/>
<circle cx="119.29" cy="297.39" r="2.25" fill="#dc5a58" stroke="#4a2020" stroke-width="0.7"/>
<circle cx="126.37" cy="300.93" r="2.25" fill="#dc5a58" stroke="#4a2020" stroke-width="0.7"/>
<circle cx="140.31" cy="298.72" r="2.25" fill="#dc5a58" stroke="#4a2020" stroke-width="0.7"/>
<circle cx="129.91" cy="310.22" r="2.25" fill="#dc5a58" stroke="#4a2020" stroke-width="0.7"/>
<circle cx="119.29" cy="319.07" r="2.25" fill="#dc5a58" stroke="#4a2020" stroke-width="0.7"/>
<circle cx="126.37" cy="318.63" r="2.25" fill="#dc5a58" stroke="#4a2020" stroke-width="0.7"/>
<circle cx="133.45" cy="317.3" r="2.25" fill="#dc5a58" stroke="#4a2020" stroke-width="0.7"/>
<circle cx="140.31" cy="320.18" r="2.25" fill="#dc5a58" stroke="#4a2020" stroke-width="0.7"/>
<circle cx="123.05" cy="324.6" r="2.25" fill="#dc5a58" stroke="#4a2020" stroke-width="0.7"/>
<circle cx="129.91" cy="325.71" r="2.25" fill="#dc5a58" stroke="#4a2020" stroke-width="0.7"/>
<circle cx="136.77" cy="325.71" r="2.25" fill="#dc5a58" stroke="#4a2020" stroke-width="0.7"/>
<circle cx="119.29" cy="335.22" r="2.25" fill="#dc5a58" stroke="#4a2020" stroke-width="0.7"/>
<circle cx="126.37" cy="336.77" r="2.25" fill="#dc5a58" stroke="#4a2020" stroke-width="0.7"/>
<circle cx="140.31" cy="333.89" r="2.25" fill="#dc5a58" stroke="#4a2020" stroke-width="0.7"/>
<circle cx="126.37" cy="347.17" r="2.25" fill="#dc5a58" stroke="#4a2020" stroke-width="0.7"/>
<circle cx="133.45" cy="347.17" r="2.25" fill="#dc5a58" stroke="#4a2020" stroke-width="0.7"/>
<circle cx="119.29" cy="356.24" r="2.25" fill="#dc5a58" stroke="#4a2020" stroke-width="0.7"/>
<circle cx="140.31" cy="358.89" r="2.25" fill="#dc5a58" stroke="#4a2020" stroke-width="0.7"/>
<circle cx="119.29" cy="362.21" r="2.25" fill="#dc5a58" stroke="#4a2020" stroke-width="0.7"/>
<circle cx="133.45" cy="360.44" r="2.25" fill="#dc5a58" stroke="#4a2020" stroke-width="0.7"/>
<circle cx="119.29" cy="368.19" r="2.25" fill="#dc5a58" stroke="#4a2020" stroke-width="0.7"/>
<circle cx="133.45" cy="368.19" r="2.25" fill="#dc5a58" stroke="#4a2020" stroke-width="0.7"/>
<circle cx="140.31" cy="366.19" r="2.25" fill="#dc5a58" stroke="#4a2020" stroke-width="0.7"/>
<text x="185.1" y="229.4" font-size="14.6" font-weight="bold" fill="#000">F</text>
<line x1="240.9" y1="350.78" x2="331" y2="350.78" stroke="#e4e4e4" stroke-width="0.9" />
<line x1="240.9" y1="326.16" x2="331" y2="326.16" stroke="#e4e4e4" stroke-width="0.9" />
<line x1="240.9" y1="301.54" x2="331" y2="301.54" stroke="#e4e4e4" stroke-width="0.9" />
<line x1="240.9" y1="276.92" x2="331" y2="276.92" stroke="#e4e4e4" stroke-width="0.9" />
<line x1="240.9" y1="252.3" x2="331" y2="252.3" stroke="#e4e4e4" stroke-width="0.9" />
<line x1="266.5" y1="239.5" x2="266.5" y2="375.4" stroke="#e4e4e4" stroke-width="0.9" />
<line x1="305.2" y1="239.5" x2="305.2" y2="375.4" stroke="#e4e4e4" stroke-width="0.9" />
<rect x="240.9" y="239.5" width="90.1" height="135.9" fill="none" stroke="#6e6e6e" stroke-width="1.1" />
<line x1="232.6" y1="375.4" x2="331.55" y2="375.4" stroke="#505050" stroke-width="1.1" />
<line x1="232.6" y1="375.4" x2="240.9" y2="375.4" stroke="#6e6e6e" stroke-width="1.1" />
<line x1="232.6" y1="350.78" x2="240.9" y2="350.78" stroke="#6e6e6e" stroke-width="1.1" />
<line x1="232.6" y1="326.16" x2="240.9" y2="326.16" stroke="#6e6e6e" stroke-width="1.1" />
<line x1="232.6" y1="301.54" x2="240.9" y2="301.54" stroke="#6e6e6e" stroke-width="1.1" />
<line x1="232.6" y1="276.92" x2="240.9" y2="276.92" stroke="#6e6e6e" stroke-width="1.1" />
<line x1="232.6" y1="252.3" x2="240.9" y2="252.3" stroke="#6e6e6e" stroke-width="1.1" />
<line x1="266.5" y1="375.4" x2="266.5" y2="383.7" stroke="#6e6e6e" stroke-width="1.1" />
<line x1="305.2" y1="375.4" x2="305.2" y2="383.7" stroke="#6e6e6e" stroke-width="1.1" />
<text x="230" y="379.3" font-size="11" text-anchor="end" fill="#222" stroke="#222" stroke-width="0.2" >6</text>
<text x="230" y="354.68" font-size="11" text-anchor="end" fill="#222" stroke="#222" stroke-width="0.2" >8</text>
<text x="230" y="330.06" font-size="11" text-anchor="end" fill="#222" stroke="#222" stroke-width="0.2" >10</text>
<text x="230" y="305.44" font-size="11" text-anchor="end" fill="#222" stroke="#222" stroke-width="0.2" >12</text>
<text x="230" y="280.82" font-size="11" text-anchor="end" fill="#222" stroke="#222" stroke-width="0.2" >14</text>
<text x="230" y="256.2" font-size="11" text-anchor="end" fill="#222" stroke="#222" stroke-width="0.2" >16</text>
<text x="266.5" y="397.1" font-size="11" text-anchor="middle" fill="#222" stroke="#222" stroke-width="0.2" >NGT</text>
<text x="305.2" y="397.1" font-size="11" text-anchor="middle" fill="#222" stroke="#222" stroke-width="0.2" >T2D</text>
<text transform="translate(195.8,310.75) rotate(-90)" x="0" y="0" font-size="11.1" text-anchor="middle" fill="#222" stroke="#222" stroke-width="0.2" ><tspan font-style="italic">CKMT2</tspan> mRNA</text>
<text transform="translate(208.8,313.55) rotate(-90)" x="0" y="0" font-size="11.1" text-anchor="middle" fill="#222" stroke="#222" stroke-width="0.2" >[log<tspan font-size="8.2" dy="2.8">2</tspan><tspan dy="-2.8">(signal)]</tspan></text>
<line x1="266.6" y1="275.3" x2="266.6" y2="330.7" stroke="#555" stroke-width="1" />
<line x1="260.1" y1="275.3" x2="273.1" y2="275.3" stroke="#555" stroke-width="1" />
<line x1="260.1" y1="330.7" x2="273.1" y2="330.7" stroke="#555" stroke-width="1" />
<rect x="253.7" y="284.5" width="25.8" height="23.8" fill="#e6e6e9" stroke="#555" stroke-width="1" />
<line x1="253.7" y1="295.7" x2="279.5" y2="295.7" stroke="#444" stroke-width="1" />
<line x1="305.3" y1="289.5" x2="305.3" y2="327" stroke="#555" stroke-width="1" />
<line x1="298.8" y1="289.5" x2="311.8" y2="289.5" stroke="#555" stroke-width="1" />
<line x1="298.8" y1="327" x2="311.8" y2="327" stroke="#555" stroke-width="1" />
<rect x="292.4" y="304.7" width="25.8" height="15.1" fill="#e4a19c" stroke="#555" stroke-width="1" />
<line x1="292.4" y1="309.7" x2="318.2" y2="309.7" stroke="#444" stroke-width="1" />
<line x1="266.5" y1="264.3" x2="305.2" y2="264.3" stroke="#5a5a5a" stroke-width="1" />
<text x="285.5" y="264.59" font-size="13.5" text-anchor="middle" fill="#2a2a2a" font-family="DejaVu Sans, sans-serif" font-weight="bold">*</text>
<circle cx="266.53" cy="275.26" r="2.25" fill="#b0b0b4" stroke="#555" stroke-width="0.7"/>
<circle cx="264.35" cy="281.14" r="2.25" fill="#b0b0b4" stroke="#555" stroke-width="0.7"/>
<circle cx="268.88" cy="282.32" r="2.25" fill="#b0b0b4" stroke="#555" stroke-width="0.7"/>
<circle cx="272.75" cy="282.82" r="2.25" fill="#b0b0b4" stroke="#555" stroke-width="0.7"/>
<circle cx="277.28" cy="283.32" r="2.25" fill="#b0b0b4" stroke="#555" stroke-width="0.7"/>
<circle cx="260.15" cy="284.5" r="2.25" fill="#b0b0b4" stroke="#555" stroke-width="0.7"/>
<circle cx="255.95" cy="285.34" r="2.25" fill="#b0b0b4" stroke="#555" stroke-width="0.7"/>
<circle cx="264.35" cy="290.04" r="2.25" fill="#b0b0b4" stroke="#555" stroke-width="0.7"/>
<circle cx="277.28" cy="291.22" r="2.25" fill="#b0b0b4" stroke="#555" stroke-width="0.7"/>
<circle cx="255.95" cy="293.74" r="2.25" fill="#b0b0b4" stroke="#555" stroke-width="0.7"/>
<circle cx="264.35" cy="295.42" r="2.25" fill="#b0b0b4" stroke="#555" stroke-width="0.7"/>
<circle cx="272.75" cy="295.08" r="2.25" fill="#b0b0b4" stroke="#555" stroke-width="0.7"/>
<circle cx="260.15" cy="297.93" r="2.25" fill="#b0b0b4" stroke="#555" stroke-width="0.7"/>
<circle cx="268.88" cy="297.09" r="2.25" fill="#b0b0b4" stroke="#555" stroke-width="0.7"/>
<circle cx="264.35" cy="300.45" r="2.25" fill="#b0b0b4" stroke="#555" stroke-width="0.7"/>
<circle cx="268.88" cy="301.29" r="2.25" fill="#b0b0b4" stroke="#555" stroke-width="0.7"/>
<circle cx="260.15" cy="303.81" r="2.25" fill="#b0b0b4" stroke="#555" stroke-width="0.7"/>
<circle cx="264.35" cy="305.49" r="2.25" fill="#b0b0b4" stroke="#555" stroke-width="0.7"/>
<circle cx="272.75" cy="303.48" r="2.25" fill="#b0b0b4" stroke="#555" stroke-width="0.7"/>
<circle cx="266.53" cy="310.53" r="2.25" fill="#b0b0b4" stroke="#555" stroke-width="0.7"/>
<circle cx="266.53" cy="315.9" r="2.25" fill="#b0b0b4" stroke="#555" stroke-width="0.7"/>
<circle cx="264.35" cy="325.64" r="2.25" fill="#b0b0b4" stroke="#555" stroke-width="0.7"/>
<circle cx="268.88" cy="323.46" r="2.25" fill="#b0b0b4" stroke="#555" stroke-width="0.7"/>
<circle cx="266.53" cy="330.68" r="2.25" fill="#b0b0b4" stroke="#555" stroke-width="0.7"/>
<circle cx="266.53" cy="345.46" r="2.25" fill="#b0b0b4" stroke="#555" stroke-width="0.7"/>
<circle cx="302.97" cy="289.2" r="2.25" fill="#dc5a58" stroke="#4a2020" stroke-width="0.7"/>
<circle cx="307.17" cy="293.74" r="2.25" fill="#dc5a58" stroke="#4a2020" stroke-width="0.7"/>
<circle cx="307.17" cy="298.44" r="2.25" fill="#dc5a58" stroke="#4a2020" stroke-width="0.7"/>
<circle cx="311.87" cy="300.45" r="2.25" fill="#dc5a58" stroke="#4a2020" stroke-width="0.7"/>
<circle cx="315.9" cy="301.8" r="2.25" fill="#dc5a58" stroke="#4a2020" stroke-width="0.7"/>
<circle cx="294.58" cy="303.48" r="2.25" fill="#dc5a58" stroke="#4a2020" stroke-width="0.7"/>
<circle cx="298.77" cy="304.65" r="2.25" fill="#dc5a58" stroke="#4a2020" stroke-width="0.7"/>
<circle cx="302.97" cy="304.65" r="2.25" fill="#dc5a58" stroke="#4a2020" stroke-width="0.7"/>
<circle cx="307.17" cy="304.15" r="2.25" fill="#dc5a58" stroke="#4a2020" stroke-width="0.7"/>
<circle cx="311.87" cy="307.17" r="2.25" fill="#dc5a58" stroke="#4a2020" stroke-width="0.7"/>
<circle cx="315.9" cy="308.01" r="2.25" fill="#dc5a58" stroke="#4a2020" stroke-width="0.7"/>
<circle cx="294.58" cy="308.01" r="2.25" fill="#dc5a58" stroke="#4a2020" stroke-width="0.7"/>
<circle cx="298.77" cy="308.85" r="2.25" fill="#dc5a58" stroke="#4a2020" stroke-width="0.7"/>
<circle cx="302.97" cy="311.37" r="2.25" fill="#dc5a58" stroke="#4a2020" stroke-width="0.7"/>
<circle cx="307.17" cy="311.37" r="2.25" fill="#dc5a58" stroke="#4a2020" stroke-width="0.7"/>
<circle cx="311.87" cy="312.21" r="2.25" fill="#dc5a58" stroke="#4a2020" stroke-width="0.7"/>
<circle cx="298.77" cy="312.54" r="2.25" fill="#dc5a58" stroke="#4a2020" stroke-width="0.7"/>
<circle cx="298.77" cy="320.27" r="2.25" fill="#dc5a58" stroke="#4a2020" stroke-width="0.7"/>
<circle cx="302.97" cy="320.27" r="2.25" fill="#dc5a58" stroke="#4a2020" stroke-width="0.7"/>
<circle cx="307.17" cy="320.27" r="2.25" fill="#dc5a58" stroke="#4a2020" stroke-width="0.7"/>
<circle cx="311.87" cy="323.12" r="2.25" fill="#dc5a58" stroke="#4a2020" stroke-width="0.7"/>
<circle cx="298.77" cy="326.99" r="2.25" fill="#dc5a58" stroke="#4a2020" stroke-width="0.7"/>
<circle cx="307.17" cy="326.48" r="2.25" fill="#dc5a58" stroke="#4a2020" stroke-width="0.7"/>
<text x="375.6" y="229.3" font-size="14.6" font-weight="bold" fill="#000">G</text>
<line x1="424.5" y1="329.2" x2="626.5" y2="329.2" stroke="#e4e4e4" stroke-width="0.9" />
<line x1="424.5" y1="284.1" x2="626.5" y2="284.1" stroke="#e4e4e4" stroke-width="0.9" />
<line x1="491.84" y1="239" x2="491.84" y2="374.3" stroke="#e4e4e4" stroke-width="0.9" />
<line x1="559.18" y1="239" x2="559.18" y2="374.3" stroke="#e4e4e4" stroke-width="0.9" />
<rect x="424.5" y="239" width="202" height="135.3" fill="none" stroke="#6e6e6e" stroke-width="1.1" />
<line x1="416.2" y1="374.3" x2="627.05" y2="374.3" stroke="#505050" stroke-width="1.1" />
<line x1="416.2" y1="374.3" x2="424.5" y2="374.3" stroke="#6e6e6e" stroke-width="1.1" />
<line x1="416.2" y1="329.2" x2="424.5" y2="329.2" stroke="#6e6e6e" stroke-width="1.1" />
<line x1="416.2" y1="284.1" x2="424.5" y2="284.1" stroke="#6e6e6e" stroke-width="1.1" />
<line x1="416.2" y1="239" x2="424.5" y2="239" stroke="#6e6e6e" stroke-width="1.1" />
<line x1="424.5" y1="374.3" x2="424.5" y2="382.6" stroke="#6e6e6e" stroke-width="1.1" />
<line x1="491.84" y1="374.3" x2="491.84" y2="382.6" stroke="#6e6e6e" stroke-width="1.1" />
<line x1="559.18" y1="374.3" x2="559.18" y2="382.6" stroke="#6e6e6e" stroke-width="1.1" />
<line x1="626.52" y1="374.3" x2="626.52" y2="382.6" stroke="#6e6e6e" stroke-width="1.1" />
<text x="413.6" y="378.2" font-size="11" text-anchor="end" fill="#222" stroke="#222" stroke-width="0.2" >0</text>
<text x="413.6" y="333.1" font-size="11" text-anchor="end" fill="#222" stroke="#222" stroke-width="0.2" >1</text>
<text x="413.6" y="288" font-size="11" text-anchor="end" fill="#222" stroke="#222" stroke-width="0.2" >2</text>
<text x="413.6" y="242.9" font-size="11" text-anchor="end" fill="#222" stroke="#222" stroke-width="0.2" >3</text>
<text x="424.5" y="396" font-size="11" text-anchor="middle" fill="#222" stroke="#222" stroke-width="0.2" >8</text>
<text x="491.84" y="396" font-size="11" text-anchor="middle" fill="#222" stroke="#222" stroke-width="0.2" >10</text>
<text x="559.18" y="396" font-size="11" text-anchor="middle" fill="#222" stroke="#222" stroke-width="0.2" >12</text>
<text x="626.52" y="396" font-size="11" text-anchor="middle" fill="#222" stroke="#222" stroke-width="0.2" >14</text>
<text transform="translate(384.5,311.65) rotate(-90)" x="0" y="0" font-size="11.1" text-anchor="middle" fill="#222" stroke="#222" stroke-width="0.2" >SKM P-creatine</text>
<text transform="translate(397.6,310.45) rotate(-90)" x="0" y="0" font-size="11.1" text-anchor="middle" fill="#222" stroke="#222" stroke-width="0.2" >(scaled intensity)</text>
<text x="522.4" y="413.3" font-size="11" text-anchor="middle" fill="#222" stroke="#222" stroke-width="0.2" ><tspan font-style="italic">CKMT2</tspan> mRNA&#160; [log<tspan font-size="7.5" dy="2.5">2</tspan><tspan dy="-2.5">(signal)]</tspan></text>
<line x1="429" y1="247.6" x2="453.2" y2="247.6" stroke="#a9a9ad" stroke-width="2.0" />
<circle cx="441.1" cy="247.6" r="3.4" fill="#a9a9ad" stroke="white" stroke-width="1.2"/>
<text x="467.1" y="251.3" font-size="9.9" text-anchor="start" fill="#222" stroke="#222" stroke-width="0.2" >NGT</text>
<line x1="429" y1="264.9" x2="453.2" y2="264.9" stroke="#cc4547" stroke-width="2.0" />
<circle cx="441.1" cy="264.9" r="3.4" fill="#cc4547" stroke="white" stroke-width="1.2"/>
<text x="467.1" y="268.6" font-size="9.9" text-anchor="start" fill="#222" stroke="#222" stroke-width="0.2" >T2D</text>
<line x1="430" y1="281.5" x2="454.3" y2="281.5" stroke="#111" stroke-width="2.4" stroke-dasharray="5.8,4.8"/>
<text x="468.3" y="285.2" font-size="9.9" text-anchor="start" fill="#222" stroke="#222" stroke-width="0.2" >All</text>
<line x1="438.8" y1="336.2" x2="611.4" y2="306.3" stroke="#a9a9ad" stroke-width="2.1" />
<line x1="488.6" y1="345" x2="591.9" y2="319.8" stroke="#cc4547" stroke-width="2.1" />
<line x1="438.8" y1="349.4" x2="611.4" y2="312" stroke="#111" stroke-width="2.4" stroke-dasharray="6.4,4.8"/>
<circle cx="490.4" cy="323.5" r="3.2" fill="#cc4547" stroke="white" stroke-width="0.6"/>
<circle cx="508.1" cy="328.6" r="3.2" fill="#cc4547" stroke="white" stroke-width="0.6"/>
<circle cx="509" cy="349.4" r="3.2" fill="#cc4547" stroke="white" stroke-width="0.6"/>
<circle cx="488.2" cy="357.8" r="3.2" fill="#cc4547" stroke="white" stroke-width="0.6"/>
<circle cx="499.7" cy="368.5" r="3.2" fill="#cc4547" stroke="white" stroke-width="0.6"/>
<circle cx="506.8" cy="367.1" r="3.2" fill="#cc4547" stroke="white" stroke-width="0.6"/>
<circle cx="528.5" cy="306.9" r="3.2" fill="#cc4547" stroke="white" stroke-width="0.6"/>
<circle cx="528.5" cy="315.1" r="3.2" fill="#cc4547" stroke="white" stroke-width="0.6"/>
<circle cx="538.8" cy="294.3" r="3.2" fill="#cc4547" stroke="white" stroke-width="0.6"/>
<circle cx="550.3" cy="294.3" r="3.2" fill="#cc4547" stroke="white" stroke-width="0.6"/>
<circle cx="529.3" cy="306.9" r="3.2" fill="#cc4547" stroke="white" stroke-width="0.6"/>
<circle cx="543.2" cy="305.2" r="3.2" fill="#cc4547" stroke="white" stroke-width="0.6"/>
<circle cx="530" cy="315.3" r="3.2" fill="#cc4547" stroke="white" stroke-width="0.6"/>
<circle cx="541" cy="323.1" r="3.2" fill="#cc4547" stroke="white" stroke-width="0.6"/>
<circle cx="552.8" cy="321.3" r="3.2" fill="#cc4547" stroke="white" stroke-width="0.6"/>
<circle cx="551" cy="324.6" r="3.2" fill="#cc4547" stroke="white" stroke-width="0.6"/>
<circle cx="552.1" cy="330.2" r="3.2" fill="#cc4547" stroke="white" stroke-width="0.6"/>
<circle cx="558.7" cy="340.1" r="3.2" fill="#cc4547" stroke="white" stroke-width="0.6"/>
<circle cx="580.9" cy="337.3" r="3.2" fill="#cc4547" stroke="white" stroke-width="0.6"/>
<circle cx="592.6" cy="303.6" r="3.2" fill="#cc4547" stroke="white" stroke-width="0.6"/>
<circle cx="533.3" cy="349.4" r="3.2" fill="#cc4547" stroke="white" stroke-width="0.6"/>
<circle cx="532.2" cy="363.4" r="3.2" fill="#cc4547" stroke="white" stroke-width="0.6"/>
<circle cx="567.6" cy="361.2" r="3.2" fill="#cc4547" stroke="white" stroke-width="0.6"/>
<circle cx="562.1" cy="368.5" r="3.2" fill="#cc4547" stroke="white" stroke-width="0.6"/>
<circle cx="438.1" cy="320.7" r="3.2" fill="#a9a9ad" stroke="white" stroke-width="0.6"/>
<circle cx="493.5" cy="310.9" r="3.2" fill="#a9a9ad" stroke="white" stroke-width="0.6"/>
<circle cx="497.9" cy="329.7" r="3.2" fill="#a9a9ad" stroke="white" stroke-width="0.6"/>
<circle cx="479.3" cy="344.1" r="3.2" fill="#a9a9ad" stroke="white" stroke-width="0.6"/>
<circle cx="520.7" cy="334.6" r="3.2" fill="#a9a9ad" stroke="white" stroke-width="0.6"/>
<circle cx="586" cy="267.1" r="3.2" fill="#a9a9ad" stroke="white" stroke-width="0.6"/>
<circle cx="611.4" cy="285.5" r="3.2" fill="#a9a9ad" stroke="white" stroke-width="0.6"/>
<circle cx="575.3" cy="301" r="3.2" fill="#a9a9ad" stroke="white" stroke-width="0.6"/>
<circle cx="547.7" cy="316.9" r="3.2" fill="#a9a9ad" stroke="white" stroke-width="0.6"/>
<circle cx="589.7" cy="311.8" r="3.2" fill="#a9a9ad" stroke="white" stroke-width="0.6"/>
<circle cx="605.9" cy="316.2" r="3.2" fill="#a9a9ad" stroke="white" stroke-width="0.6"/>
<circle cx="602.6" cy="335.9" r="3.2" fill="#a9a9ad" stroke="white" stroke-width="0.6"/>
<circle cx="552.1" cy="350.1" r="3.2" fill="#a9a9ad" stroke="white" stroke-width="0.6"/>
<rect x="641.4" y="241" width="43.3" height="30.2" fill="white" stroke="#b2b2b2" stroke-width="1.3" />
<text x="645.1" y="254.6" font-size="9.5" text-anchor="start" fill="#222" stroke="#222" stroke-width="0.2" ><tspan font-style="italic">R</tspan> = 0.41</text>
<text x="645.1" y="265.1" font-size="9.5" text-anchor="start" fill="#222" stroke="#222" stroke-width="0.2" ><tspan font-style="italic">P</tspan> = 0.16</text>
<rect x="641.4" y="276.3" width="43.3" height="31.2" fill="white" stroke="#c2323c" stroke-width="1.3" />
<text x="645.1" y="289.9" font-size="9.5" text-anchor="start" fill="#222" stroke="#222" stroke-width="0.2" ><tspan font-style="italic">R</tspan> = 0.28</text>
<text x="645.1" y="300.4" font-size="9.5" text-anchor="start" fill="#222" stroke="#222" stroke-width="0.2" ><tspan font-style="italic">P</tspan> = 0.21</text>
<rect x="641.4" y="313.3" width="43.6" height="31.2" fill="white" stroke="#222" stroke-width="1.2" stroke-dasharray="2.75,2.75"/>
<text x="645.1" y="326.9" font-size="9.5" text-anchor="start" fill="#222" stroke="#222" stroke-width="0.2" ><tspan font-style="italic">R</tspan> = 0.34</text>
<text x="645.1" y="337.4" font-size="9.5" text-anchor="start" fill="#222" stroke="#222" stroke-width="0.2" ><tspan font-style="italic">P</tspan> = 0.04</text>
<text x="0" y="440.6" font-size="14.6" font-weight="bold" fill="#000">H</text>
<line x1="39.5" y1="570.3" x2="242.2" y2="570.3" stroke="#e4e4e4" stroke-width="0.9" />
<line x1="39.5" y1="525.3" x2="242.2" y2="525.3" stroke="#e4e4e4" stroke-width="0.9" />
<line x1="107" y1="480.2" x2="107" y2="615.3" stroke="#e4e4e4" stroke-width="0.9" />
<line x1="174.5" y1="480.2" x2="174.5" y2="615.3" stroke="#e4e4e4" stroke-width="0.9" />
<rect x="39.5" y="480.2" width="202.7" height="135.1" fill="none" stroke="#6e6e6e" stroke-width="1.1" />
<line x1="31.2" y1="615.3" x2="242.75" y2="615.3" stroke="#505050" stroke-width="1.1" />
<line x1="31.2" y1="615.3" x2="39.5" y2="615.3" stroke="#6e6e6e" stroke-width="1.1" />
<line x1="31.2" y1="570.3" x2="39.5" y2="570.3" stroke="#6e6e6e" stroke-width="1.1" />
<line x1="31.2" y1="525.3" x2="39.5" y2="525.3" stroke="#6e6e6e" stroke-width="1.1" />
<line x1="31.2" y1="480.3" x2="39.5" y2="480.3" stroke="#6e6e6e" stroke-width="1.1" />
<line x1="39.5" y1="615.3" x2="39.5" y2="623.6" stroke="#6e6e6e" stroke-width="1.1" />
<line x1="107" y1="615.3" x2="107" y2="623.6" stroke="#6e6e6e" stroke-width="1.1" />
<line x1="174.5" y1="615.3" x2="174.5" y2="623.6" stroke="#6e6e6e" stroke-width="1.1" />
<line x1="242" y1="615.3" x2="242" y2="623.6" stroke="#6e6e6e" stroke-width="1.1" />
<text x="28.6" y="619.2" font-size="11" text-anchor="end" fill="#222" stroke="#222" stroke-width="0.2" >0</text>
<text x="28.6" y="574.2" font-size="11" text-anchor="end" fill="#222" stroke="#222" stroke-width="0.2" >5</text>
<text x="28.6" y="529.2" font-size="11" text-anchor="end" fill="#222" stroke="#222" stroke-width="0.2" >10</text>
<text x="28.6" y="484.2" font-size="11" text-anchor="end" fill="#222" stroke="#222" stroke-width="0.2" >15</text>
<text x="39.5" y="637" font-size="11" text-anchor="middle" fill="#222" stroke="#222" stroke-width="0.2" >0</text>
<text x="107" y="637" font-size="11" text-anchor="middle" fill="#222" stroke="#222" stroke-width="0.2" >1</text>
<text x="174.5" y="637" font-size="11" text-anchor="middle" fill="#222" stroke="#222" stroke-width="0.2" >2</text>
<text x="242" y="637" font-size="11" text-anchor="middle" fill="#222" stroke="#222" stroke-width="0.2" >3</text>
<text transform="translate(11.5,546.55) rotate(-90)" x="0" y="0" font-size="11.1" text-anchor="middle" fill="#222" stroke="#222" stroke-width="0.2" >Blood glucose (mM)</text>
<text x="138.5" y="650" font-size="11" text-anchor="middle" fill="#222" stroke="#222" stroke-width="0.2" >SKM P-creatine (scaled intensity)</text>
<rect x="38.1" y="443.3" width="64.8" height="31.1" fill="white" stroke="#b2b2b2" stroke-width="1.3" />
<text x="69.1" y="456.9" font-size="9.5" text-anchor="middle" fill="#222" stroke="#222" stroke-width="0.2" ><tspan font-style="italic">R</tspan> = 0.57</text>
<text x="69.1" y="467.4" font-size="9.5" text-anchor="middle" fill="#222" stroke="#222" stroke-width="0.2" ><tspan font-style="italic">P</tspan> = 0.02</text>
<rect x="106.6" y="443.3" width="65.5" height="31.1" fill="white" stroke="#c2323c" stroke-width="1.3" />
<text x="139.2" y="456.9" font-size="9.5" text-anchor="middle" fill="#222" stroke="#222" stroke-width="0.2" ><tspan font-style="italic">R</tspan> = −0.37</text>
<text x="139.2" y="467.4" font-size="9.5" text-anchor="middle" fill="#222" stroke="#222" stroke-width="0.2" ><tspan font-style="italic">P</tspan> = 0.09</text>
<rect x="175.8" y="443.3" width="65.5" height="31.1" fill="white" stroke="#222" stroke-width="1.2" stroke-dasharray="2.75,2.75"/>
<text x="209.55" y="456.9" font-size="9.5" text-anchor="middle" fill="#222" stroke="#222" stroke-width="0.2" ><tspan font-style="italic">R</tspan> = −0.36</text>
<text x="209.55" y="467.4" font-size="9.5" text-anchor="middle" fill="#222" stroke="#222" stroke-width="0.2" ><tspan font-style="italic">P</tspan> = 0.03</text>
<line x1="182.4" y1="491.7" x2="205.9" y2="491.7" stroke="#a9a9ad" stroke-width="2.0" />
<circle cx="194.15" cy="491.7" r="3.4" fill="#a9a9ad" stroke="white" stroke-width="1.2"/>
<text x="220" y="495.4" font-size="9.9" text-anchor="start" fill="#222" stroke="#222" stroke-width="0.2" >NGT</text>
<line x1="182.4" y1="509.3" x2="205.9" y2="509.3" stroke="#cc4547" stroke-width="2.0" />
<circle cx="194.15" cy="509.3" r="3.4" fill="#cc4547" stroke="white" stroke-width="1.2"/>
<text x="220" y="513" font-size="9.9" text-anchor="start" fill="#222" stroke="#222" stroke-width="0.2" >T2D</text>
<line x1="183" y1="525.9" x2="207.6" y2="525.9" stroke="#111" stroke-width="2.4" stroke-dasharray="5.8,4.8"/>
<text x="221.5" y="529.6" font-size="9.9" text-anchor="start" fill="#222" stroke="#222" stroke-width="0.2" >All</text>
<line x1="48.2" y1="526.6" x2="159.6" y2="547.9" stroke="#cc4547" stroke-width="2.1" />
<line x1="76" y1="570.1" x2="196.9" y2="561.8" stroke="#a9a9ad" stroke-width="2.1" />
<line x1="48.2" y1="536.6" x2="196.9" y2="565" stroke="#111" stroke-width="2.4" stroke-dasharray="6.4,4.8"/>
<circle cx="77.3" cy="499.9" r="3.2" fill="#cc4547" stroke="white" stroke-width="0.6"/>
<circle cx="106.1" cy="500.9" r="3.2" fill="#cc4547" stroke="white" stroke-width="0.6"/>
<circle cx="55.9" cy="521.6" r="3.2" fill="#cc4547" stroke="white" stroke-width="0.6"/>
<circle cx="64.3" cy="519.5" r="3.2" fill="#cc4547" stroke="white" stroke-width="0.6"/>
<circle cx="48.2" cy="532.3" r="3.2" fill="#cc4547" stroke="white" stroke-width="0.6"/>
<circle cx="77.3" cy="533" r="3.2" fill="#cc4547" stroke="white" stroke-width="0.6"/>
<circle cx="95.4" cy="527.6" r="3.2" fill="#cc4547" stroke="white" stroke-width="0.6"/>
<circle cx="93.7" cy="538.3" r="3.2" fill="#cc4547" stroke="white" stroke-width="0.6"/>
<circle cx="108" cy="534.9" r="3.2" fill="#cc4547" stroke="white" stroke-width="0.6"/>
<circle cx="106.6" cy="543" r="3.2" fill="#cc4547" stroke="white" stroke-width="0.6"/>
<circle cx="118.3" cy="536" r="3.2" fill="#cc4547" stroke="white" stroke-width="0.6"/>
<circle cx="116.2" cy="543" r="3.2" fill="#cc4547" stroke="white" stroke-width="0.6"/>
<circle cx="127.3" cy="540.4" r="3.2" fill="#cc4547" stroke="white" stroke-width="0.6"/>
<circle cx="140.3" cy="544.7" r="3.2" fill="#cc4547" stroke="white" stroke-width="0.6"/>
<circle cx="145.7" cy="546.9" r="3.2" fill="#cc4547" stroke="white" stroke-width="0.6"/>
<circle cx="159.6" cy="547.9" r="3.2" fill="#cc4547" stroke="white" stroke-width="0.6"/>
<circle cx="159.1" cy="529.8" r="3.2" fill="#cc4547" stroke="white" stroke-width="0.6"/>
<circle cx="143.5" cy="556.9" r="3.2" fill="#cc4547" stroke="white" stroke-width="0.6"/>
<circle cx="60.6" cy="550.1" r="3.2" fill="#cc4547" stroke="white" stroke-width="0.6"/>
<circle cx="91.2" cy="560.7" r="3.2" fill="#cc4547" stroke="white" stroke-width="0.6"/>
<circle cx="114.5" cy="555.8" r="3.2" fill="#cc4547" stroke="white" stroke-width="0.6"/>
<circle cx="115.1" cy="553.2" r="3.2" fill="#cc4547" stroke="white" stroke-width="0.6"/>
<circle cx="75.6" cy="561.8" r="3.2" fill="#a9a9ad" stroke="white" stroke-width="0.6"/>
<circle cx="84.6" cy="571.2" r="3.2" fill="#a9a9ad" stroke="white" stroke-width="0.6"/>
<circle cx="96.9" cy="572.9" r="3.2" fill="#a9a9ad" stroke="white" stroke-width="0.6"/>
<circle cx="99.1" cy="565.9" r="3.2" fill="#a9a9ad" stroke="white" stroke-width="0.6"/>
<circle cx="106.6" cy="571.2" r="3.2" fill="#a9a9ad" stroke="white" stroke-width="0.6"/>
<circle cx="118.9" cy="569.3" r="3.2" fill="#a9a9ad" stroke="white" stroke-width="0.6"/>
<circle cx="120.4" cy="566.5" r="3.2" fill="#a9a9ad" stroke="white" stroke-width="0.6"/>
<circle cx="127.3" cy="567.6" r="3.2" fill="#a9a9ad" stroke="white" stroke-width="0.6"/>
<circle cx="133.2" cy="563.7" r="3.2" fill="#a9a9ad" stroke="white" stroke-width="0.6"/>
<circle cx="134.7" cy="569.3" r="3.2" fill="#a9a9ad" stroke="white" stroke-width="0.6"/>
<circle cx="149.5" cy="567.1" r="3.2" fill="#a9a9ad" stroke="white" stroke-width="0.6"/>
<circle cx="172.8" cy="565.9" r="3.2" fill="#a9a9ad" stroke="white" stroke-width="0.6"/>
<circle cx="196.5" cy="554.8" r="3.2" fill="#a9a9ad" stroke="white" stroke-width="0.6"/>
<circle cx="200.6" cy="562.9" r="3.2" fill="#a9a9ad" stroke="white" stroke-width="0.6"/>
<text x="264.9" y="440.5" font-size="14.6" font-weight="bold" fill="#000">I</text>
<rect x="284.1" y="573.2" width="10.77" height="11.3" fill="#f4f4f4" stroke="#666" stroke-width="0.8"/>
<rect x="284.1" y="584.5" width="10.77" height="11.4" fill="#efefef" stroke="#666" stroke-width="0.8"/>
<line x1="289.48" y1="565.6" x2="289.48" y2="573.2" stroke="#666" stroke-width="0.9" />
<text transform="translate(292.98,562.3) rotate(-90)" x="0" y="0" font-size="9.65" fill="#222" stroke="#222" stroke-width="0.2">Age</text>
<rect x="294.87" y="573.2" width="10.77" height="11.3" fill="#d6d6db" stroke="#666" stroke-width="0.8"/>
<rect x="294.87" y="584.5" width="10.77" height="11.4" fill="#ececec" stroke="#666" stroke-width="0.8"/>
<line x1="300.25" y1="565.6" x2="300.25" y2="573.2" stroke="#666" stroke-width="0.9" />
<text transform="translate(303.75,562.3) rotate(-90)" x="0" y="0" font-size="9.65" fill="#222" stroke="#222" stroke-width="0.2">Weight (kg)</text>
<rect x="305.64" y="573.2" width="10.77" height="11.3" fill="#d2d2d7" stroke="#666" stroke-width="0.8"/>
<rect x="305.64" y="584.5" width="10.77" height="11.4" fill="#f8e2d8" stroke="#666" stroke-width="0.8"/>
<line x1="311.02" y1="565.6" x2="311.02" y2="573.2" stroke="#666" stroke-width="0.9" />
<text transform="translate(314.52,562.3) rotate(-90)" x="0" y="0" font-size="9.65" fill="#222" stroke="#222" stroke-width="0.2">Length (m)</text>
<rect x="316.41" y="573.2" width="10.77" height="11.3" fill="#f6f6f6" stroke="#666" stroke-width="0.8"/>
<rect x="316.41" y="584.5" width="10.77" height="11.4" fill="#dcdce0" stroke="#666" stroke-width="0.8"/>
<line x1="321.79" y1="565.6" x2="321.79" y2="573.2" stroke="#666" stroke-width="0.9" />
<text transform="translate(325.29,562.3) rotate(-90)" x="0" y="0" font-size="9.65" fill="#222" stroke="#222" stroke-width="0.2">BMI (kg/m<tspan font-size="5.5" dy="-3">2</tspan><tspan dy="3">)</tspan></text>
<rect x="327.18" y="573.2" width="10.77" height="11.3" fill="#f4f4f4" stroke="#666" stroke-width="0.8"/>
<rect x="327.18" y="584.5" width="10.77" height="11.4" fill="#d1d1d5" stroke="#666" stroke-width="0.8"/>
<line x1="332.56" y1="565.6" x2="332.56" y2="573.2" stroke="#666" stroke-width="0.9" />
<text transform="translate(336.06,562.3) rotate(-90)" x="0" y="0" font-size="9.65" fill="#222" stroke="#222" stroke-width="0.2">Waist (cm)</text>
<rect x="337.95" y="573.2" width="10.77" height="11.3" fill="#d5d5d9" stroke="#666" stroke-width="0.8"/>
<rect x="337.95" y="584.5" width="10.77" height="11.4" fill="#f5f5f5" stroke="#666" stroke-width="0.8"/>
<line x1="343.33" y1="565.6" x2="343.33" y2="573.2" stroke="#666" stroke-width="0.9" />
<text transform="translate(346.83,562.3) rotate(-90)" x="0" y="0" font-size="9.65" fill="#222" stroke="#222" stroke-width="0.2">Hip (cm)</text>
<rect x="348.72" y="573.2" width="10.77" height="11.3" fill="#e9b7ad" stroke="#666" stroke-width="0.8"/>
<rect x="348.72" y="584.5" width="10.77" height="11.4" fill="#d5d5d9" stroke="#666" stroke-width="0.8"/>
<line x1="354.1" y1="565.6" x2="354.1" y2="573.2" stroke="#666" stroke-width="0.9" />
<text transform="translate(357.6,562.3) rotate(-90)" x="0" y="0" font-size="9.65" fill="#222" stroke="#222" stroke-width="0.2">WHR</text>
<rect x="359.49" y="573.2" width="10.77" height="11.3" fill="#e7b2a7" stroke="#666" stroke-width="0.8"/>
<rect x="359.49" y="584.5" width="10.77" height="11.4" fill="#ecbdb3" stroke="#666" stroke-width="0.8"/>
<line x1="364.87" y1="565.6" x2="364.87" y2="573.2" stroke="#666" stroke-width="0.9" />
<text transform="translate(368.37,562.3) rotate(-90)" x="0" y="0" font-size="9.65" fill="#222" stroke="#222" stroke-width="0.2">Pulse (BPM)</text>
<rect x="370.26" y="573.2" width="10.77" height="11.3" fill="#e9e9ec" stroke="#666" stroke-width="0.8"/>
<rect x="370.26" y="584.5" width="10.77" height="11.4" fill="#f0cbc3" stroke="#666" stroke-width="0.8"/>
<line x1="375.64" y1="565.6" x2="375.64" y2="573.2" stroke="#666" stroke-width="0.9" />
<text transform="translate(379.14,562.3) rotate(-90)" x="0" y="0" font-size="9.65" fill="#222" stroke="#222" stroke-width="0.2">FP-glucose (mM)</text>
<rect x="381.03" y="573.2" width="10.77" height="11.3" fill="#ecc0b6" stroke="#666" stroke-width="0.8"/>
<rect x="381.03" y="584.5" width="10.77" height="11.4" fill="#f3d4cb" stroke="#666" stroke-width="0.8"/>
<line x1="386.41" y1="565.6" x2="386.41" y2="573.2" stroke="#666" stroke-width="0.9" />
<text transform="translate(389.91,562.3) rotate(-90)" x="0" y="0" font-size="9.65" fill="#222" stroke="#222" stroke-width="0.2">OGTT-glucose (mM)</text>
<rect x="391.8" y="573.2" width="10.77" height="11.3" fill="#e7b5ab" stroke="#666" stroke-width="0.8"/>
<rect x="391.8" y="584.5" width="10.77" height="11.4" fill="#e09487" stroke="#666" stroke-width="0.8"/>
<line x1="397.18" y1="565.6" x2="397.18" y2="573.2" stroke="#666" stroke-width="0.9" />
<text transform="translate(400.68,562.3) rotate(-90)" x="0" y="0" font-size="9.65" fill="#222" stroke="#222" stroke-width="0.2">HbA1c (mmol/mol)</text>
<rect x="402.57" y="573.2" width="10.77" height="11.3" fill="#e8b8ad" stroke="#666" stroke-width="0.8"/>
<rect x="402.57" y="584.5" width="10.77" height="11.4" fill="#ebebed" stroke="#666" stroke-width="0.8"/>
<line x1="407.95" y1="565.6" x2="407.95" y2="573.2" stroke="#666" stroke-width="0.9" />
<text transform="translate(411.45,562.3) rotate(-90)" x="0" y="0" font-size="9.65" fill="#222" stroke="#222" stroke-width="0.2">S-insulin (pM)</text>
<rect x="413.33" y="573.2" width="10.77" height="11.3" fill="#db8e80" stroke="#666" stroke-width="0.8"/>
<rect x="413.33" y="584.5" width="10.77" height="11.4" fill="#d6d6da" stroke="#666" stroke-width="0.8"/>
<line x1="418.72" y1="565.6" x2="418.72" y2="573.2" stroke="#666" stroke-width="0.9" />
<text transform="translate(422.22,562.3) rotate(-90)" x="0" y="0" font-size="9.65" fill="#222" stroke="#222" stroke-width="0.2">OGTT S-insulin (pM)</text>
<rect x="424.1" y="573.2" width="10.77" height="11.3" fill="#d5d5da" stroke="#666" stroke-width="0.8"/>
<rect x="424.1" y="584.5" width="10.77" height="11.4" fill="#e5e5e8" stroke="#666" stroke-width="0.8"/>
<line x1="429.49" y1="565.6" x2="429.49" y2="573.2" stroke="#666" stroke-width="0.9" />
<text transform="translate(432.99,562.3) rotate(-90)" x="0" y="0" font-size="9.65" fill="#222" stroke="#222" stroke-width="0.2">S-C-peptide (nM)</text>
<rect x="434.87" y="573.2" width="10.77" height="11.3" fill="#ecbeb4" stroke="#666" stroke-width="0.8"/>
<rect x="434.87" y="584.5" width="10.77" height="11.4" fill="#f8f8f8" stroke="#666" stroke-width="0.8"/>
<line x1="440.26" y1="565.6" x2="440.26" y2="573.2" stroke="#666" stroke-width="0.9" />
<text transform="translate(443.76,562.3) rotate(-90)" x="0" y="0" font-size="9.65" fill="#222" stroke="#222" stroke-width="0.2">HOMA1-IR</text>
<rect x="445.64" y="573.2" width="10.77" height="11.3" fill="#f4f4f4" stroke="#666" stroke-width="0.8"/>
<rect x="445.64" y="584.5" width="10.77" height="11.4" fill="#f0f0f0" stroke="#666" stroke-width="0.8"/>
<line x1="451.03" y1="565.6" x2="451.03" y2="573.2" stroke="#666" stroke-width="0.9" />
<text transform="translate(454.53,562.3) rotate(-90)" x="0" y="0" font-size="9.65" fill="#222" stroke="#222" stroke-width="0.2">P-creatinine (μM)</text>
<rect x="456.41" y="573.2" width="10.77" height="11.3" fill="#f9f9f9" stroke="#666" stroke-width="0.8"/>
<rect x="456.41" y="584.5" width="10.77" height="11.4" fill="#d6d6da" stroke="#666" stroke-width="0.8"/>
<line x1="461.8" y1="565.6" x2="461.8" y2="573.2" stroke="#666" stroke-width="0.9" />
<text transform="translate(465.3,562.3) rotate(-90)" x="0" y="0" font-size="9.65" fill="#222" stroke="#222" stroke-width="0.2">P-ASAT (μkat/liter)</text>
<rect x="467.18" y="573.2" width="10.77" height="11.3" fill="#f8e3db" stroke="#666" stroke-width="0.8"/>
<rect x="467.18" y="584.5" width="10.77" height="11.4" fill="#e1e1e4" stroke="#666" stroke-width="0.8"/>
<line x1="472.57" y1="565.6" x2="472.57" y2="573.2" stroke="#666" stroke-width="0.9" />
<text transform="translate(476.07,562.3) rotate(-90)" x="0" y="0" font-size="9.65" fill="#222" stroke="#222" stroke-width="0.2">P-ALAT (μkat/liter)</text>
<rect x="477.95" y="573.2" width="10.77" height="11.3" fill="#f8e7e0" stroke="#666" stroke-width="0.8"/>
<rect x="477.95" y="584.5" width="10.77" height="11.4" fill="#ececec" stroke="#666" stroke-width="0.8"/>
<line x1="483.34" y1="565.6" x2="483.34" y2="573.2" stroke="#666" stroke-width="0.9" />
<text transform="translate(486.84,562.3) rotate(-90)" x="0" y="0" font-size="9.65" fill="#222" stroke="#222" stroke-width="0.2">P-TG (mM)</text>
<rect x="488.72" y="573.2" width="10.77" height="11.3" fill="#f4dad2" stroke="#666" stroke-width="0.8"/>
<rect x="488.72" y="584.5" width="10.77" height="11.4" fill="#f2f2f2" stroke="#666" stroke-width="0.8"/>
<line x1="494.11" y1="565.6" x2="494.11" y2="573.2" stroke="#666" stroke-width="0.9" />
<text transform="translate(497.61,562.3) rotate(-90)" x="0" y="0" font-size="9.65" fill="#222" stroke="#222" stroke-width="0.2">P-Chol (mM)</text>
<rect x="499.49" y="573.2" width="10.77" height="11.3" fill="#d6d6db" stroke="#666" stroke-width="0.8"/>
<rect x="499.49" y="584.5" width="10.77" height="11.4" fill="#e8ada1" stroke="#666" stroke-width="0.8"/>
<line x1="504.88" y1="565.6" x2="504.88" y2="573.2" stroke="#666" stroke-width="0.9" />
<text transform="translate(508.38,562.3) rotate(-90)" x="0" y="0" font-size="9.65" fill="#222" stroke="#222" stroke-width="0.2">P-HDL (mM)</text>
<rect x="510.26" y="573.2" width="10.77" height="11.3" fill="#f0cfc6" stroke="#666" stroke-width="0.8"/>
<rect x="510.26" y="584.5" width="10.77" height="11.4" fill="#d6d6da" stroke="#666" stroke-width="0.8"/>
<line x1="515.65" y1="565.6" x2="515.65" y2="573.2" stroke="#666" stroke-width="0.9" />
<text transform="translate(519.15,562.3) rotate(-90)" x="0" y="0" font-size="9.65" fill="#222" stroke="#222" stroke-width="0.2">P-LDL (mM)</text>
<rect x="521.03" y="573.2" width="10.77" height="11.3" fill="#f5ddd5" stroke="#666" stroke-width="0.8"/>
<rect x="521.03" y="584.5" width="10.77" height="11.4" fill="#f7f7f7" stroke="#666" stroke-width="0.8"/>
<line x1="526.42" y1="565.6" x2="526.42" y2="573.2" stroke="#666" stroke-width="0.9" />
<text transform="translate(529.92,562.3) rotate(-90)" x="0" y="0" font-size="9.65" fill="#222" stroke="#222" stroke-width="0.2">FFA (mM)</text>
<text x="343.33" y="587.62" font-size="15" text-anchor="middle" fill="#111" font-family="DejaVu Sans, sans-serif" font-weight="bold">*</text>
<text x="354.1" y="598.98" font-size="15" text-anchor="middle" fill="#111" font-family="DejaVu Sans, sans-serif" font-weight="bold">*</text>
<text x="397.18" y="598.98" font-size="15" text-anchor="middle" fill="#111" font-family="DejaVu Sans, sans-serif" font-weight="bold">*</text>
<text x="418.72" y="587.62" font-size="15" text-anchor="middle" fill="#111" font-family="DejaVu Sans, sans-serif" font-weight="bold">*</text>
<line x1="275.9" y1="578.6" x2="284.1" y2="578.6" stroke="#666" stroke-width="1" />
<line x1="275.9" y1="590.2" x2="284.1" y2="590.2" stroke="#666" stroke-width="1" />
<text x="272.6" y="582" font-size="9.4" text-anchor="end" fill="#222" stroke="#222" stroke-width="0.2" >NGT</text>
<text x="272.6" y="593.7" font-size="9.4" text-anchor="end" fill="#222" stroke="#222" stroke-width="0.2" >T2D</text>
<defs><linearGradient id="cb" x1="0" x2="1" y1="0" y2="0"><stop offset="0" stop-color="#ca4e4e"/><stop offset="0.5" stop-color="#ffffff"/><stop offset="1" stop-color="#a4a4aa"/></linearGradient></defs>
<rect x="284.1" y="601.5" width="247.7" height="11.1" fill="url(#cb)" stroke="#777" stroke-width="0.8"/>
<line x1="407.75" y1="601.5" x2="407.75" y2="612.6" stroke="#7a7a7a" stroke-width="1.5" stroke-dasharray="4.3,2.4"/>
<text x="284.1" y="624.6" font-size="9.7" text-anchor="middle" fill="#222" stroke="#222" stroke-width="0.2" >-0.75</text>
<text x="407.95" y="624.6" font-size="9.7" text-anchor="middle" fill="#222" stroke="#222" stroke-width="0.2" >0</text>
<text x="531.8" y="624.6" font-size="9.7" text-anchor="middle" fill="#222" stroke="#222" stroke-width="0.2" >0.75</text>
<text x="403.4" y="645.3" font-size="11.0" text-anchor="middle" fill="#222" stroke="#222" stroke-width="0.2" >Correlation (<tspan font-style="italic">r</tspan>) with <tspan font-style="italic">CKMT2</tspan> mRNA&#160; [log<tspan font-size="7.5" dy="2.5">2</tspan><tspan dy="-2.5">(signal)]</tspan></text>
<text x="551" y="440.6" font-size="14.6" font-weight="bold" fill="#000">J</text>
<line x1="592.3" y1="571.1" x2="794" y2="571.1" stroke="#e4e4e4" stroke-width="0.9" />
<line x1="592.3" y1="526.1" x2="794" y2="526.1" stroke="#e4e4e4" stroke-width="0.9" />
<line x1="642.72" y1="481.1" x2="642.72" y2="616.1" stroke="#e4e4e4" stroke-width="0.9" />
<line x1="693.14" y1="481.1" x2="693.14" y2="616.1" stroke="#e4e4e4" stroke-width="0.9" />
<line x1="743.56" y1="481.1" x2="743.56" y2="616.1" stroke="#e4e4e4" stroke-width="0.9" />
<rect x="592.3" y="481.1" width="201.7" height="135" fill="none" stroke="#6e6e6e" stroke-width="1.1" />
<line x1="584" y1="616.1" x2="794.55" y2="616.1" stroke="#505050" stroke-width="1.1" />
<line x1="584" y1="616.1" x2="592.3" y2="616.1" stroke="#6e6e6e" stroke-width="1.1" />
<line x1="584" y1="571.1" x2="592.3" y2="571.1" stroke="#6e6e6e" stroke-width="1.1" />
<line x1="584" y1="526.1" x2="592.3" y2="526.1" stroke="#6e6e6e" stroke-width="1.1" />
<line x1="584" y1="481.1" x2="592.3" y2="481.1" stroke="#6e6e6e" stroke-width="1.1" />
<line x1="592.3" y1="616.1" x2="592.3" y2="624.4" stroke="#6e6e6e" stroke-width="1.1" />
<line x1="642.72" y1="616.1" x2="642.72" y2="624.4" stroke="#6e6e6e" stroke-width="1.1" />
<line x1="693.14" y1="616.1" x2="693.14" y2="624.4" stroke="#6e6e6e" stroke-width="1.1" />
<line x1="743.56" y1="616.1" x2="743.56" y2="624.4" stroke="#6e6e6e" stroke-width="1.1" />
<line x1="793.98" y1="616.1" x2="793.98" y2="624.4" stroke="#6e6e6e" stroke-width="1.1" />
<text x="581.4" y="620" font-size="11" text-anchor="end" fill="#222" stroke="#222" stroke-width="0.2" >20</text>
<text x="581.4" y="575" font-size="11" text-anchor="end" fill="#222" stroke="#222" stroke-width="0.2" >40</text>
<text x="581.4" y="530" font-size="11" text-anchor="end" fill="#222" stroke="#222" stroke-width="0.2" >60</text>
<text x="581.4" y="485" font-size="11" text-anchor="end" fill="#222" stroke="#222" stroke-width="0.2" >80</text>
<text x="592.3" y="637.8" font-size="11" text-anchor="middle" fill="#222" stroke="#222" stroke-width="0.2" >8</text>
<text x="642.72" y="637.8" font-size="11" text-anchor="middle" fill="#222" stroke="#222" stroke-width="0.2" >10</text>
<text x="693.14" y="637.8" font-size="11" text-anchor="middle" fill="#222" stroke="#222" stroke-width="0.2" >12</text>
<text x="743.56" y="637.8" font-size="11" text-anchor="middle" fill="#222" stroke="#222" stroke-width="0.2" >14</text>
<text x="793.98" y="637.8" font-size="11" text-anchor="middle" fill="#222" stroke="#222" stroke-width="0.2" >16</text>
<text transform="translate(562.9,551.5) rotate(-90)" x="0" y="0" font-size="11.1" text-anchor="middle" fill="#222" stroke="#222" stroke-width="0.2" >Hb1Ac (mmol/mol)</text>
<text x="689.5" y="649.9" font-size="11" text-anchor="middle" fill="#222" stroke="#222" stroke-width="0.2" ><tspan font-style="italic">CKMT2</tspan> mRNA&#160; [log<tspan font-size="7.5" dy="2.5">2</tspan><tspan dy="-2.5">(signal)]</tspan></text>
<rect x="593" y="444.7" width="64.7" height="31" fill="white" stroke="#b2b2b2" stroke-width="1.3" />
<text x="625.85" y="458.3" font-size="9.8" text-anchor="middle" fill="#222" stroke="#222" stroke-width="0.2" ><tspan font-style="italic">R</tspan> = −0.29</text>
<text x="625.85" y="468.8" font-size="9.8" text-anchor="middle" fill="#222" stroke="#222" stroke-width="0.2" ><tspan font-style="italic">P</tspan> = 0.16</text>
<rect x="660.9" y="444.7" width="65" height="31" fill="white" stroke="#c2323c" stroke-width="1.3" />
<text x="694.4" y="458.3" font-size="9.8" text-anchor="middle" fill="#222" stroke="#222" stroke-width="0.2" ><tspan font-style="italic">R</tspan> = −0.45</text>
<text x="694.4" y="468.8" font-size="9.8" text-anchor="middle" fill="#222" stroke="#222" stroke-width="0.2" ><tspan font-style="italic">P</tspan> = 0.03</text>
<rect x="729.4" y="444.7" width="65.6" height="31" fill="white" stroke="#222" stroke-width="1.2" stroke-dasharray="2.75,2.75"/>
<text x="761" y="458.3" font-size="9.8" text-anchor="middle" fill="#222" stroke="#222" stroke-width="0.2" ><tspan font-style="italic">R</tspan> = −0.42</text>
<text x="761" y="468.8" font-size="9.8" text-anchor="middle" fill="#222" stroke="#222" stroke-width="0.2" ><tspan font-style="italic">P</tspan> = 0.003</text>
<line x1="730.9" y1="490.3" x2="754.8" y2="490.3" stroke="#cc4547" stroke-width="2.0" />
<circle cx="742.85" cy="490.3" r="3.4" fill="#cc4547" stroke="white" stroke-width="1.2"/>
<text x="768.9" y="494" font-size="9.9" text-anchor="start" fill="#222" stroke="#222" stroke-width="0.2" >T2D</text>
<line x1="730.9" y1="507.3" x2="754.8" y2="507.3" stroke="#a9a9ad" stroke-width="2.0" />
<circle cx="742.85" cy="507.3" r="3.4" fill="#a9a9ad" stroke="white" stroke-width="1.2"/>
<text x="768.9" y="511" font-size="9.9" text-anchor="start" fill="#222" stroke="#222" stroke-width="0.2" >NGT</text>
<line x1="730.9" y1="523.8" x2="755.5" y2="523.8" stroke="#111" stroke-width="2.4" stroke-dasharray="5.8,4.8"/>
<text x="768.9" y="527.5" font-size="9.9" text-anchor="start" fill="#222" stroke="#222" stroke-width="0.2" >All</text>
<line x1="640.2" y1="532.8" x2="718.1" y2="561.2" stroke="#cc4547" stroke-width="2.1" />
<line x1="602.4" y1="575.5" x2="744.8" y2="584" stroke="#a9a9ad" stroke-width="2.1" />
<line x1="602.4" y1="539.8" x2="746.9" y2="582.1" stroke="#111" stroke-width="2.4" stroke-dasharray="6.4,4.8"/>
<circle cx="641.7" cy="514.8" r="3.2" fill="#cc4547" stroke="white" stroke-width="0.6"/>
<circle cx="672.7" cy="525.9" r="3.2" fill="#cc4547" stroke="white" stroke-width="0.6"/>
<circle cx="655.6" cy="530.6" r="3.2" fill="#cc4547" stroke="white" stroke-width="0.6"/>
<circle cx="670.5" cy="533" r="3.2" fill="#cc4547" stroke="white" stroke-width="0.6"/>
<circle cx="673.7" cy="535.5" r="3.2" fill="#cc4547" stroke="white" stroke-width="0.6"/>
<circle cx="681.2" cy="533" r="3.2" fill="#cc4547" stroke="white" stroke-width="0.6"/>
<circle cx="687.6" cy="530.6" r="3.2" fill="#cc4547" stroke="white" stroke-width="0.6"/>
<circle cx="688.2" cy="537.2" r="3.2" fill="#cc4547" stroke="white" stroke-width="0.6"/>
<circle cx="695.1" cy="537.2" r="3.2" fill="#cc4547" stroke="white" stroke-width="0.6"/>
<circle cx="679.3" cy="541.9" r="3.2" fill="#cc4547" stroke="white" stroke-width="0.6"/>
<circle cx="654.1" cy="544.1" r="3.2" fill="#cc4547" stroke="white" stroke-width="0.6"/>
<circle cx="639.6" cy="546.6" r="3.2" fill="#cc4547" stroke="white" stroke-width="0.6"/>
<circle cx="670.7" cy="553.3" r="3.2" fill="#cc4547" stroke="white" stroke-width="0.6"/>
<circle cx="677.6" cy="553.3" r="3.2" fill="#cc4547" stroke="white" stroke-width="0.6"/>
<circle cx="686.1" cy="555.4" r="3.2" fill="#cc4547" stroke="white" stroke-width="0.6"/>
<circle cx="692.5" cy="560.1" r="3.2" fill="#cc4547" stroke="white" stroke-width="0.6"/>
<circle cx="648.7" cy="563.9" r="3.2" fill="#cc4547" stroke="white" stroke-width="0.6"/>
<circle cx="686.5" cy="574" r="3.2" fill="#cc4547" stroke="white" stroke-width="0.6"/>
<circle cx="699.5" cy="576.1" r="3.2" fill="#cc4547" stroke="white" stroke-width="0.6"/>
<circle cx="709.1" cy="555.4" r="3.2" fill="#cc4547" stroke="white" stroke-width="0.6"/>
<circle cx="718.1" cy="564.8" r="3.2" fill="#cc4547" stroke="white" stroke-width="0.6"/>
<circle cx="602.4" cy="571.2" r="3.2" fill="#a9a9ad" stroke="white" stroke-width="0.6"/>
<circle cx="647.2" cy="566.5" r="3.2" fill="#a9a9ad" stroke="white" stroke-width="0.6"/>
<circle cx="663.7" cy="571.2" r="3.2" fill="#a9a9ad" stroke="white" stroke-width="0.6"/>
<circle cx="684.6" cy="571.2" r="3.2" fill="#a9a9ad" stroke="white" stroke-width="0.6"/>
<circle cx="643.8" cy="579.7" r="3.2" fill="#a9a9ad" stroke="white" stroke-width="0.6"/>
<circle cx="688.2" cy="580" r="3.2" fill="#a9a9ad" stroke="white" stroke-width="0.6"/>
<circle cx="694.2" cy="577.8" r="3.2" fill="#a9a9ad" stroke="white" stroke-width="0.6"/>
<circle cx="633.4" cy="591.1" r="3.2" fill="#a9a9ad" stroke="white" stroke-width="0.6"/>
<circle cx="674.4" cy="591.1" r="3.2" fill="#a9a9ad" stroke="white" stroke-width="0.6"/>
<circle cx="687.2" cy="582.5" r="3.2" fill="#a9a9ad" stroke="white" stroke-width="0.6"/>
<circle cx="698.9" cy="588.9" r="3.2" fill="#a9a9ad" stroke="white" stroke-width="0.6"/>
<circle cx="705.7" cy="575.7" r="3.2" fill="#a9a9ad" stroke="white" stroke-width="0.6"/>
<circle cx="708.5" cy="582.5" r="3.2" fill="#a9a9ad" stroke="white" stroke-width="0.6"/>
<circle cx="716" cy="580" r="3.2" fill="#a9a9ad" stroke="white" stroke-width="0.6"/>
<circle cx="700.4" cy="589.4" r="3.2" fill="#a9a9ad" stroke="white" stroke-width="0.6"/>
<circle cx="712.8" cy="584.7" r="3.2" fill="#a9a9ad" stroke="white" stroke-width="0.6"/>
<circle cx="727.7" cy="573.3" r="3.2" fill="#a9a9ad" stroke="white" stroke-width="0.6"/>
<circle cx="734.1" cy="578.2" r="3.2" fill="#a9a9ad" stroke="white" stroke-width="0.6"/>
<circle cx="725.2" cy="589.4" r="3.2" fill="#a9a9ad" stroke="white" stroke-width="0.6"/>
<circle cx="730.5" cy="589.4" r="3.2" fill="#a9a9ad" stroke="white" stroke-width="0.6"/>
<circle cx="746.9" cy="586.8" r="3.2" fill="#a9a9ad" stroke="white" stroke-width="0.6"/>
</svg>
</body></html>
